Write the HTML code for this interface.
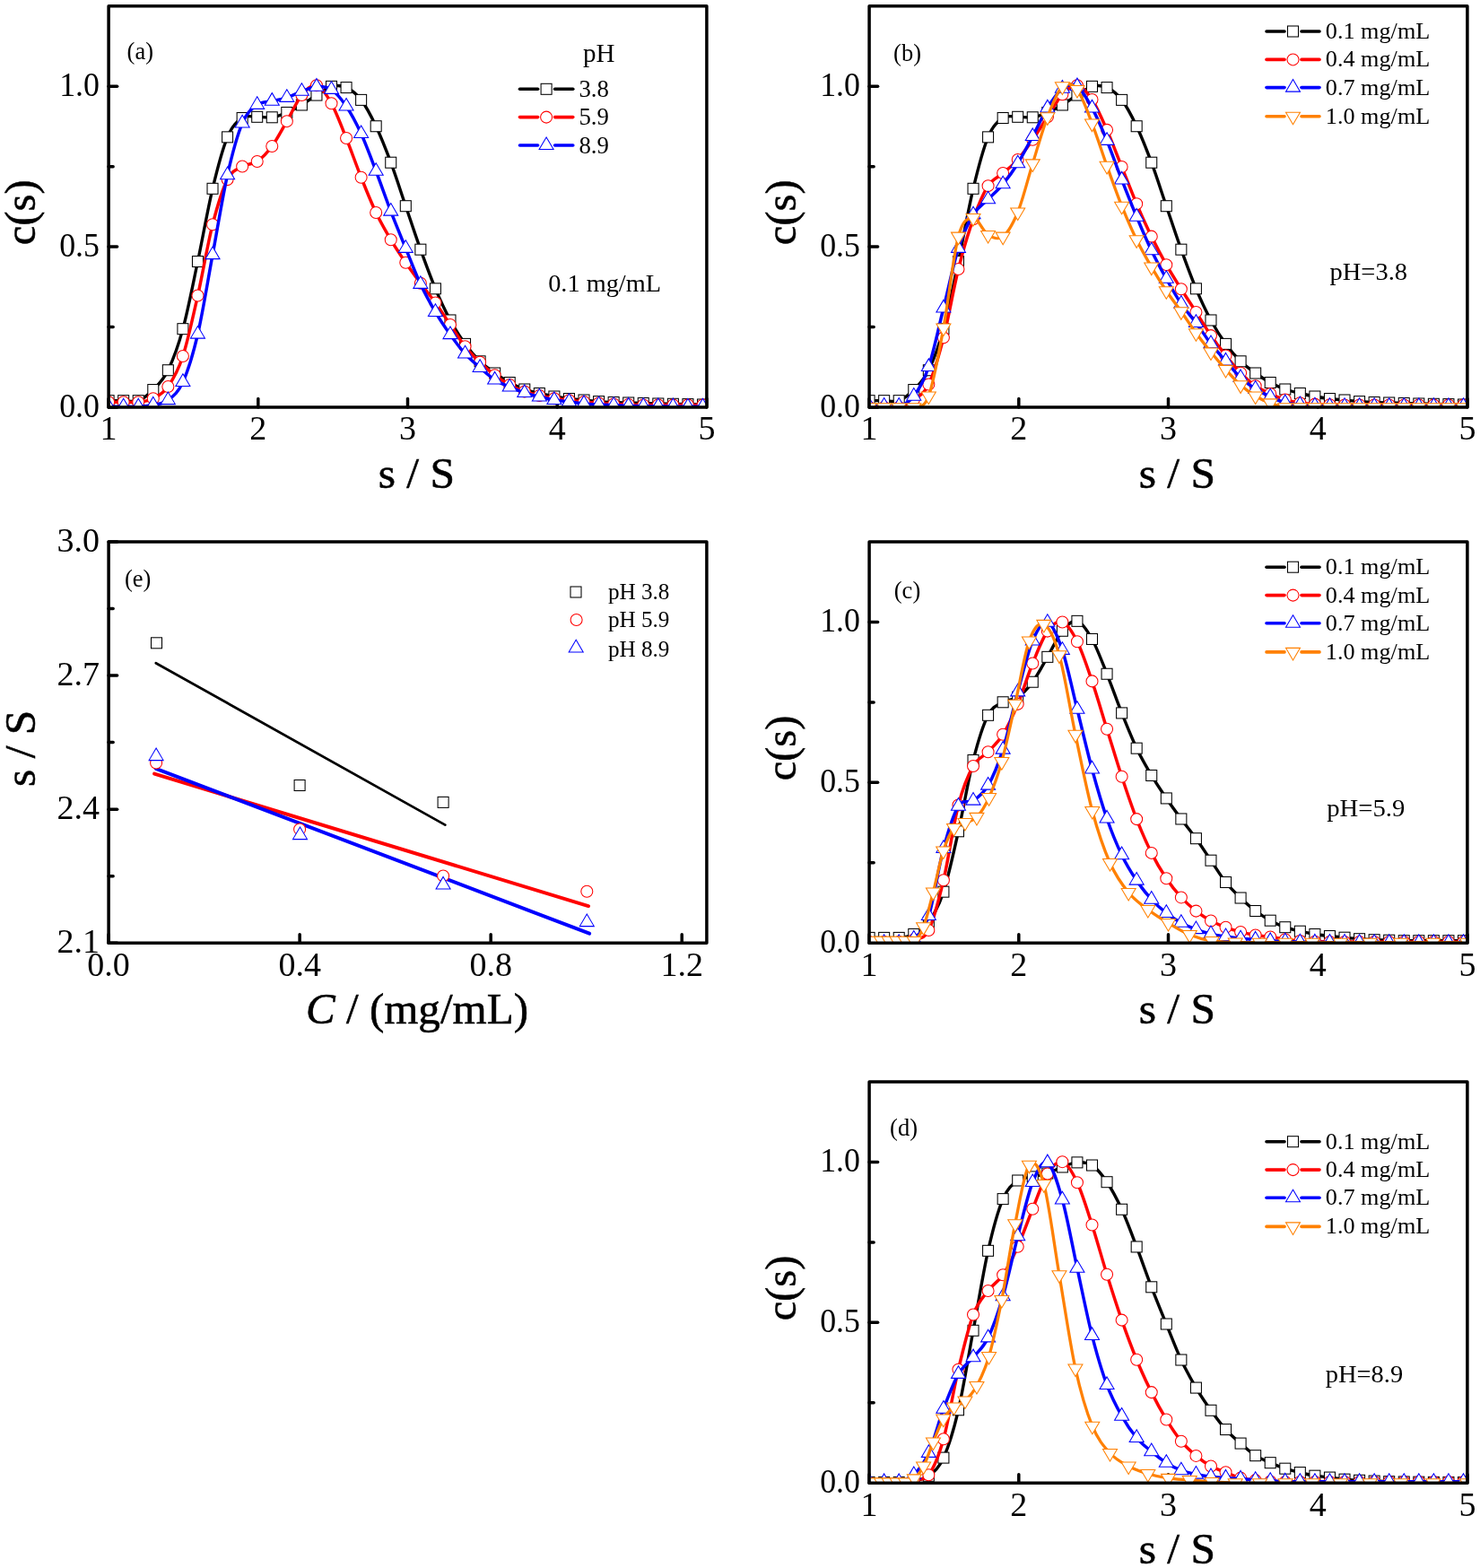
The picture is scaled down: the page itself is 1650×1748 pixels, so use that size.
<!DOCTYPE html>
<html><head><meta charset="utf-8"><title>c(s) distributions</title>
<style>html,body{margin:0;padding:0;background:#fff;}svg{display:block;}.ttl{stroke:#000;stroke-width:0.55px;}</style>
</head><body>
<svg width="1650" height="1748" viewBox="0 0 1650 1748" font-family="'Liberation Serif','Times New Roman',serif">
<rect width="1650" height="1748" fill="#fff"/>
<clipPath id="clipa"><rect x="121.1" y="6.8" width="666.8" height="447.2"/></clipPath>
<line x1="121.1" y1="454" x2="130.6" y2="454" stroke="#000" stroke-width="3.5" stroke-linecap="round"/>
<line x1="121.1" y1="275.12" x2="130.6" y2="275.12" stroke="#000" stroke-width="3.5" stroke-linecap="round"/>
<line x1="121.1" y1="96.24" x2="130.6" y2="96.24" stroke="#000" stroke-width="3.5" stroke-linecap="round"/>
<line x1="121.1" y1="364.56" x2="126.1" y2="364.56" stroke="#000" stroke-width="3.5" stroke-linecap="round"/>
<line x1="121.1" y1="185.68" x2="126.1" y2="185.68" stroke="#000" stroke-width="3.5" stroke-linecap="round"/>
<line x1="121.1" y1="454" x2="121.1" y2="444.5" stroke="#000" stroke-width="3.5" stroke-linecap="round"/>
<line x1="287.8" y1="454" x2="287.8" y2="444.5" stroke="#000" stroke-width="3.5" stroke-linecap="round"/>
<line x1="454.5" y1="454" x2="454.5" y2="444.5" stroke="#000" stroke-width="3.5" stroke-linecap="round"/>
<line x1="621.2" y1="454" x2="621.2" y2="444.5" stroke="#000" stroke-width="3.5" stroke-linecap="round"/>
<line x1="787.9" y1="454" x2="787.9" y2="444.5" stroke="#000" stroke-width="3.5" stroke-linecap="round"/>
<g clip-path="url(#clipa)">
<path d="M121.1,446.67C123.86,446.67 132.14,446.67 137.66,446.67C143.18,446.67 148.7,448.69 154.22,446.67C159.74,444.65 165.26,440.2 170.78,434.55C176.3,428.89 181.82,424.04 187.34,412.73C192.86,401.41 198.38,386.87 203.9,366.67C209.42,346.46 214.94,317.58 220.46,291.52C225.98,265.45 231.5,233.41 237.02,210.3C242.54,187.19 248.06,165.98 253.58,152.85C259.1,139.72 264.62,135.27 270.14,131.52C275.66,127.76 281.18,130.42 286.7,130.3C292.22,130.18 297.74,131.6 303.26,130.79C308.78,129.98 314.3,127.76 319.82,125.45C325.34,123.15 330.86,120.2 336.38,116.97C341.9,113.74 347.42,109.49 352.94,106.06C358.46,102.63 363.98,97.78 369.5,96.36C375.02,94.95 380.54,95.07 386.06,97.58C391.58,100.08 397.1,104.2 402.62,111.39C408.14,118.59 413.66,129.09 419.18,140.73C424.7,152.36 430.22,166.38 435.74,181.21C441.26,196.04 446.78,213.54 452.3,229.7C457.82,245.86 463.34,262.83 468.86,278.18C474.38,293.54 479.9,308.69 485.42,321.82C490.94,334.95 496.46,346.71 501.98,356.97C507.5,367.23 513.02,375.76 518.54,383.4C524.06,391.04 529.58,397.37 535.1,402.8C540.62,408.23 546.14,412.05 551.66,416C557.18,419.95 562.7,423.5 568.22,426.5C573.74,429.5 579.26,432 584.78,434C590.3,436 595.82,437.17 601.34,438.5C606.86,439.83 612.38,441 617.9,442C623.42,443 628.94,443.83 634.46,444.5C639.98,445.17 645.5,445.48 651.02,446C656.54,446.52 662.06,447.18 667.58,447.6C673.1,448.02 678.62,448.27 684.14,448.5C689.66,448.73 695.18,448.83 700.7,449C706.22,449.17 711.74,449.33 717.26,449.5C722.78,449.67 728.3,449.87 733.82,450C739.34,450.13 744.86,450.2 750.38,450.3C755.9,450.4 761.42,450.48 766.94,450.6C772.46,450.72 780.74,450.93 783.5,451" fill="none" stroke="#000000" stroke-width="3.4" stroke-linejoin="round" stroke-linecap="round"/>
<rect x="115.1" y="440.67" width="12" height="12" fill="#fff" stroke="#000000" stroke-width="1.05"/>
<rect x="131.66" y="440.67" width="12" height="12" fill="#fff" stroke="#000000" stroke-width="1.05"/>
<rect x="148.22" y="440.67" width="12" height="12" fill="#fff" stroke="#000000" stroke-width="1.05"/>
<rect x="164.78" y="428.55" width="12" height="12" fill="#fff" stroke="#000000" stroke-width="1.05"/>
<rect x="181.34" y="406.73" width="12" height="12" fill="#fff" stroke="#000000" stroke-width="1.05"/>
<rect x="197.9" y="360.67" width="12" height="12" fill="#fff" stroke="#000000" stroke-width="1.05"/>
<rect x="214.46" y="285.52" width="12" height="12" fill="#fff" stroke="#000000" stroke-width="1.05"/>
<rect x="231.02" y="204.3" width="12" height="12" fill="#fff" stroke="#000000" stroke-width="1.05"/>
<rect x="247.58" y="146.85" width="12" height="12" fill="#fff" stroke="#000000" stroke-width="1.05"/>
<rect x="264.14" y="125.52" width="12" height="12" fill="#fff" stroke="#000000" stroke-width="1.05"/>
<rect x="280.7" y="124.3" width="12" height="12" fill="#fff" stroke="#000000" stroke-width="1.05"/>
<rect x="297.26" y="124.79" width="12" height="12" fill="#fff" stroke="#000000" stroke-width="1.05"/>
<rect x="313.82" y="119.45" width="12" height="12" fill="#fff" stroke="#000000" stroke-width="1.05"/>
<rect x="330.38" y="110.97" width="12" height="12" fill="#fff" stroke="#000000" stroke-width="1.05"/>
<rect x="346.94" y="100.06" width="12" height="12" fill="#fff" stroke="#000000" stroke-width="1.05"/>
<rect x="363.5" y="90.36" width="12" height="12" fill="#fff" stroke="#000000" stroke-width="1.05"/>
<rect x="380.06" y="91.58" width="12" height="12" fill="#fff" stroke="#000000" stroke-width="1.05"/>
<rect x="396.62" y="105.39" width="12" height="12" fill="#fff" stroke="#000000" stroke-width="1.05"/>
<rect x="413.18" y="134.73" width="12" height="12" fill="#fff" stroke="#000000" stroke-width="1.05"/>
<rect x="429.74" y="175.21" width="12" height="12" fill="#fff" stroke="#000000" stroke-width="1.05"/>
<rect x="446.3" y="223.7" width="12" height="12" fill="#fff" stroke="#000000" stroke-width="1.05"/>
<rect x="462.86" y="272.18" width="12" height="12" fill="#fff" stroke="#000000" stroke-width="1.05"/>
<rect x="479.42" y="315.82" width="12" height="12" fill="#fff" stroke="#000000" stroke-width="1.05"/>
<rect x="495.98" y="350.97" width="12" height="12" fill="#fff" stroke="#000000" stroke-width="1.05"/>
<rect x="512.54" y="377.4" width="12" height="12" fill="#fff" stroke="#000000" stroke-width="1.05"/>
<rect x="529.1" y="396.8" width="12" height="12" fill="#fff" stroke="#000000" stroke-width="1.05"/>
<rect x="545.66" y="410" width="12" height="12" fill="#fff" stroke="#000000" stroke-width="1.05"/>
<rect x="562.22" y="420.5" width="12" height="12" fill="#fff" stroke="#000000" stroke-width="1.05"/>
<rect x="578.78" y="428" width="12" height="12" fill="#fff" stroke="#000000" stroke-width="1.05"/>
<rect x="595.34" y="432.5" width="12" height="12" fill="#fff" stroke="#000000" stroke-width="1.05"/>
<rect x="611.9" y="436" width="12" height="12" fill="#fff" stroke="#000000" stroke-width="1.05"/>
<rect x="628.46" y="438.5" width="12" height="12" fill="#fff" stroke="#000000" stroke-width="1.05"/>
<rect x="645.02" y="440" width="12" height="12" fill="#fff" stroke="#000000" stroke-width="1.05"/>
<rect x="661.58" y="441.6" width="12" height="12" fill="#fff" stroke="#000000" stroke-width="1.05"/>
<rect x="678.14" y="442.5" width="12" height="12" fill="#fff" stroke="#000000" stroke-width="1.05"/>
<rect x="694.7" y="443" width="12" height="12" fill="#fff" stroke="#000000" stroke-width="1.05"/>
<rect x="711.26" y="443.5" width="12" height="12" fill="#fff" stroke="#000000" stroke-width="1.05"/>
<rect x="727.82" y="444" width="12" height="12" fill="#fff" stroke="#000000" stroke-width="1.05"/>
<rect x="744.38" y="444.3" width="12" height="12" fill="#fff" stroke="#000000" stroke-width="1.05"/>
<rect x="760.94" y="444.6" width="12" height="12" fill="#fff" stroke="#000000" stroke-width="1.05"/>
<rect x="777.5" y="445" width="12" height="12" fill="#fff" stroke="#000000" stroke-width="1.05"/>
<path d="M121.1,448.2C123.86,448.2 132.14,448.2 137.66,448.2C143.18,448.2 148.7,448.86 154.22,448.2C159.74,447.54 165.26,447.12 170.78,444.24C176.3,441.36 181.82,438.79 187.34,430.91C192.86,423.03 198.38,413.86 203.9,396.97C209.42,380.08 214.94,354.02 220.46,329.58C225.98,305.13 231.5,271.88 237.02,250.3C242.54,228.73 248.06,210.91 253.58,200.12C259.1,189.33 264.62,188.93 270.14,185.58C275.66,182.22 281.18,183.76 286.7,180C292.22,176.24 297.74,170.51 303.26,163.03C308.78,155.56 314.3,144.65 319.82,135.15C325.34,125.66 330.86,112.73 336.38,106.06C341.9,99.39 347.42,93.62 352.94,95.15C358.46,96.69 363.98,105.45 369.5,115.27C375.02,125.09 380.54,140.32 386.06,154.06C391.58,167.8 397.1,183.88 402.62,197.7C408.14,211.52 413.66,225.37 419.18,236.97C424.7,248.57 430.22,257.98 435.74,267.27C441.26,276.57 446.78,284.65 452.3,292.73C457.82,300.81 463.34,308.3 468.86,315.76C474.38,323.22 479.9,329.79 485.42,337.5C490.94,345.21 496.46,353.87 501.98,362C507.5,370.13 513.02,379.33 518.54,386.3C524.06,393.27 529.58,398.47 535.1,403.8C540.62,409.13 546.14,414.1 551.66,418.3C557.18,422.5 562.7,425.97 568.22,429C573.74,432.03 579.26,434.5 584.78,436.5C590.3,438.5 595.82,439.7 601.34,441C606.86,442.3 612.38,443.42 617.9,444.3C623.42,445.18 628.94,445.68 634.46,446.3C639.98,446.92 645.5,447.47 651.02,448C656.54,448.53 662.06,449.08 667.58,449.5C673.1,449.92 678.62,450.25 684.14,450.5C689.66,450.75 695.18,450.83 700.7,451C706.22,451.17 711.74,451.42 717.26,451.5C722.78,451.58 728.3,451.5 733.82,451.5C739.34,451.5 744.86,451.5 750.38,451.5C755.9,451.5 761.42,451.5 766.94,451.5C772.46,451.5 780.74,451.5 783.5,451.5" fill="none" stroke="#ff0000" stroke-width="3.5" stroke-linejoin="round" stroke-linecap="round"/>
<circle cx="121.1" cy="448.2" r="6.5" fill="#fff" stroke="#ff0000" stroke-width="1.05"/>
<circle cx="137.66" cy="448.2" r="6.5" fill="#fff" stroke="#ff0000" stroke-width="1.05"/>
<circle cx="154.22" cy="448.2" r="6.5" fill="#fff" stroke="#ff0000" stroke-width="1.05"/>
<circle cx="170.78" cy="444.24" r="6.5" fill="#fff" stroke="#ff0000" stroke-width="1.05"/>
<circle cx="187.34" cy="430.91" r="6.5" fill="#fff" stroke="#ff0000" stroke-width="1.05"/>
<circle cx="203.9" cy="396.97" r="6.5" fill="#fff" stroke="#ff0000" stroke-width="1.05"/>
<circle cx="220.46" cy="329.58" r="6.5" fill="#fff" stroke="#ff0000" stroke-width="1.05"/>
<circle cx="237.02" cy="250.3" r="6.5" fill="#fff" stroke="#ff0000" stroke-width="1.05"/>
<circle cx="253.58" cy="200.12" r="6.5" fill="#fff" stroke="#ff0000" stroke-width="1.05"/>
<circle cx="270.14" cy="185.58" r="6.5" fill="#fff" stroke="#ff0000" stroke-width="1.05"/>
<circle cx="286.7" cy="180" r="6.5" fill="#fff" stroke="#ff0000" stroke-width="1.05"/>
<circle cx="303.26" cy="163.03" r="6.5" fill="#fff" stroke="#ff0000" stroke-width="1.05"/>
<circle cx="319.82" cy="135.15" r="6.5" fill="#fff" stroke="#ff0000" stroke-width="1.05"/>
<circle cx="336.38" cy="106.06" r="6.5" fill="#fff" stroke="#ff0000" stroke-width="1.05"/>
<circle cx="352.94" cy="95.15" r="6.5" fill="#fff" stroke="#ff0000" stroke-width="1.05"/>
<circle cx="369.5" cy="115.27" r="6.5" fill="#fff" stroke="#ff0000" stroke-width="1.05"/>
<circle cx="386.06" cy="154.06" r="6.5" fill="#fff" stroke="#ff0000" stroke-width="1.05"/>
<circle cx="402.62" cy="197.7" r="6.5" fill="#fff" stroke="#ff0000" stroke-width="1.05"/>
<circle cx="419.18" cy="236.97" r="6.5" fill="#fff" stroke="#ff0000" stroke-width="1.05"/>
<circle cx="435.74" cy="267.27" r="6.5" fill="#fff" stroke="#ff0000" stroke-width="1.05"/>
<circle cx="452.3" cy="292.73" r="6.5" fill="#fff" stroke="#ff0000" stroke-width="1.05"/>
<circle cx="468.86" cy="315.76" r="6.5" fill="#fff" stroke="#ff0000" stroke-width="1.05"/>
<circle cx="485.42" cy="337.5" r="6.5" fill="#fff" stroke="#ff0000" stroke-width="1.05"/>
<circle cx="501.98" cy="362" r="6.5" fill="#fff" stroke="#ff0000" stroke-width="1.05"/>
<circle cx="518.54" cy="386.3" r="6.5" fill="#fff" stroke="#ff0000" stroke-width="1.05"/>
<circle cx="535.1" cy="403.8" r="6.5" fill="#fff" stroke="#ff0000" stroke-width="1.05"/>
<circle cx="551.66" cy="418.3" r="6.5" fill="#fff" stroke="#ff0000" stroke-width="1.05"/>
<circle cx="568.22" cy="429" r="6.5" fill="#fff" stroke="#ff0000" stroke-width="1.05"/>
<circle cx="584.78" cy="436.5" r="6.5" fill="#fff" stroke="#ff0000" stroke-width="1.05"/>
<circle cx="601.34" cy="441" r="6.5" fill="#fff" stroke="#ff0000" stroke-width="1.05"/>
<circle cx="617.9" cy="444.3" r="6.5" fill="#fff" stroke="#ff0000" stroke-width="1.05"/>
<circle cx="634.46" cy="446.3" r="6.5" fill="#fff" stroke="#ff0000" stroke-width="1.05"/>
<circle cx="651.02" cy="448" r="6.5" fill="#fff" stroke="#ff0000" stroke-width="1.05"/>
<circle cx="667.58" cy="449.5" r="6.5" fill="#fff" stroke="#ff0000" stroke-width="1.05"/>
<circle cx="684.14" cy="450.5" r="6.5" fill="#fff" stroke="#ff0000" stroke-width="1.05"/>
<circle cx="700.7" cy="451" r="6.5" fill="#fff" stroke="#ff0000" stroke-width="1.05"/>
<circle cx="717.26" cy="451.5" r="6.5" fill="#fff" stroke="#ff0000" stroke-width="1.05"/>
<circle cx="733.82" cy="451.5" r="6.5" fill="#fff" stroke="#ff0000" stroke-width="1.05"/>
<circle cx="750.38" cy="451.5" r="6.5" fill="#fff" stroke="#ff0000" stroke-width="1.05"/>
<circle cx="766.94" cy="451.5" r="6.5" fill="#fff" stroke="#ff0000" stroke-width="1.05"/>
<circle cx="783.5" cy="451.5" r="6.5" fill="#fff" stroke="#ff0000" stroke-width="1.05"/>
<path d="M121.1,453.27C123.86,453.27 132.14,453.27 137.66,453.27C143.18,453.27 148.7,453.57 154.22,453.27C159.74,452.97 165.26,452.67 170.78,451.47C176.3,450.27 181.82,450.33 187.34,446.07C192.86,441.81 198.38,438.15 203.9,425.9C209.42,413.65 214.94,396.21 220.46,372.57C225.98,348.93 231.5,313.66 237.02,284.08C242.54,254.51 248.06,219.56 253.58,195.12C259.1,170.67 264.62,150.47 270.14,137.42C275.66,124.37 281.18,120.93 286.7,116.81C292.22,112.69 297.74,114.02 303.26,112.69C308.78,111.36 314.3,110.63 319.82,108.81C325.34,106.99 330.86,103.8 336.38,101.78C341.9,99.76 347.42,97.01 352.94,96.69C358.46,96.37 363.98,96.21 369.5,99.84C375.02,103.48 380.54,110.31 386.06,118.51C391.58,126.71 397.1,137.01 402.62,149.05C408.14,161.09 413.66,176.33 419.18,190.75C424.7,205.18 430.22,221.26 435.74,235.6C441.26,249.94 446.78,263.28 452.3,276.81C457.82,290.35 463.34,304.97 468.86,316.81C474.38,328.65 479.9,338.49 485.42,347.87C490.94,357.24 496.46,365.32 501.98,373.07C507.5,380.82 513.02,388.23 518.54,394.37C524.06,400.5 529.58,405.02 535.1,409.87C540.62,414.72 546.14,419.87 551.66,423.47C557.18,427.07 562.7,429.05 568.22,431.47C573.74,433.88 579.26,436.15 584.78,437.97C590.3,439.78 595.82,441.03 601.34,442.37C606.86,443.7 612.38,445.05 617.9,445.97C623.42,446.88 628.94,447.2 634.46,447.87C639.98,448.53 645.5,449.43 651.02,449.97C656.54,450.5 662.06,450.75 667.58,451.07C673.1,451.38 678.62,451.63 684.14,451.87C689.66,452.1 695.18,452.32 700.7,452.47C706.22,452.62 711.74,452.68 717.26,452.77C722.78,452.85 728.3,452.9 733.82,452.97C739.34,453.03 744.86,453.12 750.38,453.17C755.9,453.22 761.42,453.25 766.94,453.27C772.46,453.28 780.74,453.27 783.5,453.27" fill="none" stroke="#0000ff" stroke-width="3.5" stroke-linejoin="round" stroke-linecap="round"/>
<path d="M121.1,444.2L129.1,457.8L113.1,457.8Z" fill="#fff" stroke="#0000ff" stroke-width="1.05"/>
<path d="M137.66,444.2L145.66,457.8L129.66,457.8Z" fill="#fff" stroke="#0000ff" stroke-width="1.05"/>
<path d="M154.22,444.2L162.22,457.8L146.22,457.8Z" fill="#fff" stroke="#0000ff" stroke-width="1.05"/>
<path d="M170.78,442.4L178.78,456L162.78,456Z" fill="#fff" stroke="#0000ff" stroke-width="1.05"/>
<path d="M187.34,437L195.34,450.6L179.34,450.6Z" fill="#fff" stroke="#0000ff" stroke-width="1.05"/>
<path d="M203.9,416.84L211.9,430.44L195.9,430.44Z" fill="#fff" stroke="#0000ff" stroke-width="1.05"/>
<path d="M220.46,363.5L228.46,377.1L212.46,377.1Z" fill="#fff" stroke="#0000ff" stroke-width="1.05"/>
<path d="M237.02,275.02L245.02,288.62L229.02,288.62Z" fill="#fff" stroke="#0000ff" stroke-width="1.05"/>
<path d="M253.58,186.05L261.58,199.65L245.58,199.65Z" fill="#fff" stroke="#0000ff" stroke-width="1.05"/>
<path d="M270.14,128.35L278.14,141.95L262.14,141.95Z" fill="#fff" stroke="#0000ff" stroke-width="1.05"/>
<path d="M286.7,107.75L294.7,121.35L278.7,121.35Z" fill="#fff" stroke="#0000ff" stroke-width="1.05"/>
<path d="M303.26,103.62L311.26,117.22L295.26,117.22Z" fill="#fff" stroke="#0000ff" stroke-width="1.05"/>
<path d="M319.82,99.75L327.82,113.35L311.82,113.35Z" fill="#fff" stroke="#0000ff" stroke-width="1.05"/>
<path d="M336.38,92.72L344.38,106.32L328.38,106.32Z" fill="#fff" stroke="#0000ff" stroke-width="1.05"/>
<path d="M352.94,87.62L360.94,101.22L344.94,101.22Z" fill="#fff" stroke="#0000ff" stroke-width="1.05"/>
<path d="M369.5,90.78L377.5,104.38L361.5,104.38Z" fill="#fff" stroke="#0000ff" stroke-width="1.05"/>
<path d="M386.06,109.44L394.06,123.04L378.06,123.04Z" fill="#fff" stroke="#0000ff" stroke-width="1.05"/>
<path d="M402.62,139.99L410.62,153.59L394.62,153.59Z" fill="#fff" stroke="#0000ff" stroke-width="1.05"/>
<path d="M419.18,181.68L427.18,195.28L411.18,195.28Z" fill="#fff" stroke="#0000ff" stroke-width="1.05"/>
<path d="M435.74,226.53L443.74,240.13L427.74,240.13Z" fill="#fff" stroke="#0000ff" stroke-width="1.05"/>
<path d="M452.3,267.75L460.3,281.35L444.3,281.35Z" fill="#fff" stroke="#0000ff" stroke-width="1.05"/>
<path d="M468.86,307.75L476.86,321.35L460.86,321.35Z" fill="#fff" stroke="#0000ff" stroke-width="1.05"/>
<path d="M485.42,338.8L493.42,352.4L477.42,352.4Z" fill="#fff" stroke="#0000ff" stroke-width="1.05"/>
<path d="M501.98,364L509.98,377.6L493.98,377.6Z" fill="#fff" stroke="#0000ff" stroke-width="1.05"/>
<path d="M518.54,385.3L526.54,398.9L510.54,398.9Z" fill="#fff" stroke="#0000ff" stroke-width="1.05"/>
<path d="M535.1,400.8L543.1,414.4L527.1,414.4Z" fill="#fff" stroke="#0000ff" stroke-width="1.05"/>
<path d="M551.66,414.4L559.66,428L543.66,428Z" fill="#fff" stroke="#0000ff" stroke-width="1.05"/>
<path d="M568.22,422.4L576.22,436L560.22,436Z" fill="#fff" stroke="#0000ff" stroke-width="1.05"/>
<path d="M584.78,428.9L592.78,442.5L576.78,442.5Z" fill="#fff" stroke="#0000ff" stroke-width="1.05"/>
<path d="M601.34,433.3L609.34,446.9L593.34,446.9Z" fill="#fff" stroke="#0000ff" stroke-width="1.05"/>
<path d="M617.9,436.9L625.9,450.5L609.9,450.5Z" fill="#fff" stroke="#0000ff" stroke-width="1.05"/>
<path d="M634.46,438.8L642.46,452.4L626.46,452.4Z" fill="#fff" stroke="#0000ff" stroke-width="1.05"/>
<path d="M651.02,440.9L659.02,454.5L643.02,454.5Z" fill="#fff" stroke="#0000ff" stroke-width="1.05"/>
<path d="M667.58,442L675.58,455.6L659.58,455.6Z" fill="#fff" stroke="#0000ff" stroke-width="1.05"/>
<path d="M684.14,442.8L692.14,456.4L676.14,456.4Z" fill="#fff" stroke="#0000ff" stroke-width="1.05"/>
<path d="M700.7,443.4L708.7,457L692.7,457Z" fill="#fff" stroke="#0000ff" stroke-width="1.05"/>
<path d="M717.26,443.7L725.26,457.3L709.26,457.3Z" fill="#fff" stroke="#0000ff" stroke-width="1.05"/>
<path d="M733.82,443.9L741.82,457.5L725.82,457.5Z" fill="#fff" stroke="#0000ff" stroke-width="1.05"/>
<path d="M750.38,444.1L758.38,457.7L742.38,457.7Z" fill="#fff" stroke="#0000ff" stroke-width="1.05"/>
<path d="M766.94,444.2L774.94,457.8L758.94,457.8Z" fill="#fff" stroke="#0000ff" stroke-width="1.05"/>
<path d="M783.5,444.2L791.5,457.8L775.5,457.8Z" fill="#fff" stroke="#0000ff" stroke-width="1.05"/>
</g>
<rect x="121.1" y="6.8" width="666.8" height="447.2" fill="none" stroke="#000" stroke-width="3.5" stroke-linejoin="round"/>
<text x="111" y="464.65" font-size="38" text-anchor="end" textLength="44.8" lengthAdjust="spacingAndGlyphs">0.0</text>
<text x="111" y="285.77" font-size="38" text-anchor="end" textLength="44.8" lengthAdjust="spacingAndGlyphs">0.5</text>
<text x="111" y="106.89" font-size="38" text-anchor="end" textLength="44.8" lengthAdjust="spacingAndGlyphs">1.0</text>
<text x="121.1" y="490.3" font-size="38" text-anchor="middle">1</text>
<text x="287.8" y="490.3" font-size="38" text-anchor="middle">2</text>
<text x="454.5" y="490.3" font-size="38" text-anchor="middle">3</text>
<text x="621.2" y="490.3" font-size="38" text-anchor="middle">4</text>
<text x="787.9" y="490.3" font-size="38" text-anchor="middle">5</text>
<text x="464.3" y="544" font-size="49.5" text-anchor="middle" class="ttl">s / S</text>
<text x="0" y="0" font-size="48.5" text-anchor="middle" class="ttl" transform="translate(39.1,236.8) rotate(-90)">c(s)</text>
<text x="141.6" y="66" font-size="26.5" text-anchor="start">(a)</text>
<clipPath id="clipb"><rect x="969.1" y="6.8" width="666.8" height="447.2"/></clipPath>
<line x1="969.1" y1="454" x2="978.6" y2="454" stroke="#000" stroke-width="3.5" stroke-linecap="round"/>
<line x1="969.1" y1="275.12" x2="978.6" y2="275.12" stroke="#000" stroke-width="3.5" stroke-linecap="round"/>
<line x1="969.1" y1="96.24" x2="978.6" y2="96.24" stroke="#000" stroke-width="3.5" stroke-linecap="round"/>
<line x1="969.1" y1="364.56" x2="974.1" y2="364.56" stroke="#000" stroke-width="3.5" stroke-linecap="round"/>
<line x1="969.1" y1="185.68" x2="974.1" y2="185.68" stroke="#000" stroke-width="3.5" stroke-linecap="round"/>
<line x1="969.1" y1="454" x2="969.1" y2="444.5" stroke="#000" stroke-width="3.5" stroke-linecap="round"/>
<line x1="1135.8" y1="454" x2="1135.8" y2="444.5" stroke="#000" stroke-width="3.5" stroke-linecap="round"/>
<line x1="1302.5" y1="454" x2="1302.5" y2="444.5" stroke="#000" stroke-width="3.5" stroke-linecap="round"/>
<line x1="1469.2" y1="454" x2="1469.2" y2="444.5" stroke="#000" stroke-width="3.5" stroke-linecap="round"/>
<line x1="1635.9" y1="454" x2="1635.9" y2="444.5" stroke="#000" stroke-width="3.5" stroke-linecap="round"/>
<g clip-path="url(#clipb)">
<path d="M969.1,446.67C971.86,446.67 980.14,446.67 985.66,446.67C991.18,446.67 996.7,448.69 1002.22,446.67C1007.74,444.65 1013.26,440.2 1018.78,434.55C1024.3,428.89 1029.82,424.04 1035.34,412.73C1040.86,401.41 1046.38,386.87 1051.9,366.67C1057.42,346.46 1062.94,317.58 1068.46,291.52C1073.98,265.45 1079.5,233.41 1085.02,210.3C1090.54,187.19 1096.06,165.98 1101.58,152.85C1107.1,139.72 1112.62,135.27 1118.14,131.52C1123.66,127.76 1129.18,130.42 1134.7,130.3C1140.22,130.18 1145.74,131.6 1151.26,130.79C1156.78,129.98 1162.3,127.76 1167.82,125.45C1173.34,123.15 1178.86,120.2 1184.38,116.97C1189.9,113.74 1195.42,109.49 1200.94,106.06C1206.46,102.63 1211.98,97.78 1217.5,96.36C1223.02,94.95 1228.54,95.07 1234.06,97.58C1239.58,100.08 1245.1,104.2 1250.62,111.39C1256.14,118.59 1261.66,129.09 1267.18,140.73C1272.7,152.36 1278.22,166.38 1283.74,181.21C1289.26,196.04 1294.78,213.54 1300.3,229.7C1305.82,245.86 1311.34,262.83 1316.86,278.18C1322.38,293.54 1327.9,308.69 1333.42,321.82C1338.94,334.95 1344.46,346.71 1349.98,356.97C1355.5,367.23 1361.02,375.76 1366.54,383.4C1372.06,391.04 1377.58,397.37 1383.1,402.8C1388.62,408.23 1394.14,412.05 1399.66,416C1405.18,419.95 1410.7,423.5 1416.22,426.5C1421.74,429.5 1427.26,432 1432.78,434C1438.3,436 1443.82,437.17 1449.34,438.5C1454.86,439.83 1460.38,441 1465.9,442C1471.42,443 1476.94,443.83 1482.46,444.5C1487.98,445.17 1493.5,445.48 1499.02,446C1504.54,446.52 1510.06,447.18 1515.58,447.6C1521.1,448.02 1526.62,448.27 1532.14,448.5C1537.66,448.73 1543.18,448.83 1548.7,449C1554.22,449.17 1559.74,449.33 1565.26,449.5C1570.78,449.67 1576.3,449.87 1581.82,450C1587.34,450.13 1592.86,450.2 1598.38,450.3C1603.9,450.4 1609.42,450.48 1614.94,450.6C1620.46,450.72 1628.74,450.93 1631.5,451" fill="none" stroke="#000000" stroke-width="3.4" stroke-linejoin="round" stroke-linecap="round"/>
<rect x="963.1" y="440.67" width="12" height="12" fill="#fff" stroke="#000000" stroke-width="1.05"/>
<rect x="979.66" y="440.67" width="12" height="12" fill="#fff" stroke="#000000" stroke-width="1.05"/>
<rect x="996.22" y="440.67" width="12" height="12" fill="#fff" stroke="#000000" stroke-width="1.05"/>
<rect x="1012.78" y="428.55" width="12" height="12" fill="#fff" stroke="#000000" stroke-width="1.05"/>
<rect x="1029.34" y="406.73" width="12" height="12" fill="#fff" stroke="#000000" stroke-width="1.05"/>
<rect x="1045.9" y="360.67" width="12" height="12" fill="#fff" stroke="#000000" stroke-width="1.05"/>
<rect x="1062.46" y="285.52" width="12" height="12" fill="#fff" stroke="#000000" stroke-width="1.05"/>
<rect x="1079.02" y="204.3" width="12" height="12" fill="#fff" stroke="#000000" stroke-width="1.05"/>
<rect x="1095.58" y="146.85" width="12" height="12" fill="#fff" stroke="#000000" stroke-width="1.05"/>
<rect x="1112.14" y="125.52" width="12" height="12" fill="#fff" stroke="#000000" stroke-width="1.05"/>
<rect x="1128.7" y="124.3" width="12" height="12" fill="#fff" stroke="#000000" stroke-width="1.05"/>
<rect x="1145.26" y="124.79" width="12" height="12" fill="#fff" stroke="#000000" stroke-width="1.05"/>
<rect x="1161.82" y="119.45" width="12" height="12" fill="#fff" stroke="#000000" stroke-width="1.05"/>
<rect x="1178.38" y="110.97" width="12" height="12" fill="#fff" stroke="#000000" stroke-width="1.05"/>
<rect x="1194.94" y="100.06" width="12" height="12" fill="#fff" stroke="#000000" stroke-width="1.05"/>
<rect x="1211.5" y="90.36" width="12" height="12" fill="#fff" stroke="#000000" stroke-width="1.05"/>
<rect x="1228.06" y="91.58" width="12" height="12" fill="#fff" stroke="#000000" stroke-width="1.05"/>
<rect x="1244.62" y="105.39" width="12" height="12" fill="#fff" stroke="#000000" stroke-width="1.05"/>
<rect x="1261.18" y="134.73" width="12" height="12" fill="#fff" stroke="#000000" stroke-width="1.05"/>
<rect x="1277.74" y="175.21" width="12" height="12" fill="#fff" stroke="#000000" stroke-width="1.05"/>
<rect x="1294.3" y="223.7" width="12" height="12" fill="#fff" stroke="#000000" stroke-width="1.05"/>
<rect x="1310.86" y="272.18" width="12" height="12" fill="#fff" stroke="#000000" stroke-width="1.05"/>
<rect x="1327.42" y="315.82" width="12" height="12" fill="#fff" stroke="#000000" stroke-width="1.05"/>
<rect x="1343.98" y="350.97" width="12" height="12" fill="#fff" stroke="#000000" stroke-width="1.05"/>
<rect x="1360.54" y="377.4" width="12" height="12" fill="#fff" stroke="#000000" stroke-width="1.05"/>
<rect x="1377.1" y="396.8" width="12" height="12" fill="#fff" stroke="#000000" stroke-width="1.05"/>
<rect x="1393.66" y="410" width="12" height="12" fill="#fff" stroke="#000000" stroke-width="1.05"/>
<rect x="1410.22" y="420.5" width="12" height="12" fill="#fff" stroke="#000000" stroke-width="1.05"/>
<rect x="1426.78" y="428" width="12" height="12" fill="#fff" stroke="#000000" stroke-width="1.05"/>
<rect x="1443.34" y="432.5" width="12" height="12" fill="#fff" stroke="#000000" stroke-width="1.05"/>
<rect x="1459.9" y="436" width="12" height="12" fill="#fff" stroke="#000000" stroke-width="1.05"/>
<rect x="1476.46" y="438.5" width="12" height="12" fill="#fff" stroke="#000000" stroke-width="1.05"/>
<rect x="1493.02" y="440" width="12" height="12" fill="#fff" stroke="#000000" stroke-width="1.05"/>
<rect x="1509.58" y="441.6" width="12" height="12" fill="#fff" stroke="#000000" stroke-width="1.05"/>
<rect x="1526.14" y="442.5" width="12" height="12" fill="#fff" stroke="#000000" stroke-width="1.05"/>
<rect x="1542.7" y="443" width="12" height="12" fill="#fff" stroke="#000000" stroke-width="1.05"/>
<rect x="1559.26" y="443.5" width="12" height="12" fill="#fff" stroke="#000000" stroke-width="1.05"/>
<rect x="1575.82" y="444" width="12" height="12" fill="#fff" stroke="#000000" stroke-width="1.05"/>
<rect x="1592.38" y="444.3" width="12" height="12" fill="#fff" stroke="#000000" stroke-width="1.05"/>
<rect x="1608.94" y="444.6" width="12" height="12" fill="#fff" stroke="#000000" stroke-width="1.05"/>
<rect x="1625.5" y="445" width="12" height="12" fill="#fff" stroke="#000000" stroke-width="1.05"/>
<path d="M969.1,454C971.86,454 980.14,454 985.66,454C991.18,454 996.7,455.42 1002.22,454C1007.74,452.58 1013.26,449.71 1018.78,445.45C1024.3,441.2 1029.82,440 1035.34,428.48C1040.86,416.97 1046.38,397.78 1051.9,376.36C1057.42,354.95 1062.94,322.02 1068.46,300C1073.98,277.98 1079.5,259.72 1085.02,244.24C1090.54,228.77 1096.06,215.68 1101.58,207.15C1107.1,198.63 1112.62,197.94 1118.14,193.09C1123.66,188.24 1129.18,184.28 1134.7,178.06C1140.22,171.84 1145.74,163.72 1151.26,155.76C1156.78,147.8 1162.3,138.71 1167.82,130.3C1173.34,121.9 1178.86,111.19 1184.38,105.33C1189.9,99.47 1195.42,94.22 1200.94,95.15C1206.46,96.08 1211.98,102.63 1217.5,110.91C1223.02,119.19 1228.54,132.32 1234.06,144.85C1239.58,157.37 1245.1,172.32 1250.62,186.06C1256.14,199.8 1261.66,214.34 1267.18,227.27C1272.7,240.2 1278.22,252.32 1283.74,263.64C1289.26,274.95 1294.78,285.37 1300.3,295.15C1305.82,304.93 1311.34,313.51 1316.86,322.3C1322.38,331.09 1327.9,339.27 1333.42,347.9C1338.94,356.53 1344.46,366.02 1349.98,374.1C1355.5,382.18 1361.02,389.45 1366.54,396.4C1372.06,403.35 1377.58,410.15 1383.1,415.8C1388.62,421.45 1394.14,426.43 1399.66,430.3C1405.18,434.17 1410.7,436.47 1416.22,439C1421.74,441.53 1427.26,443.78 1432.78,445.5C1438.3,447.22 1443.82,448.45 1449.34,449.3C1454.86,450.15 1460.38,450.28 1465.9,450.6C1471.42,450.92 1476.94,451.07 1482.46,451.2C1487.98,451.33 1493.5,451.35 1499.02,451.4C1504.54,451.45 1510.06,451.48 1515.58,451.5C1521.1,451.52 1526.62,451.5 1532.14,451.5C1537.66,451.5 1543.18,451.5 1548.7,451.5C1554.22,451.5 1559.74,451.5 1565.26,451.5C1570.78,451.5 1576.3,451.5 1581.82,451.5C1587.34,451.5 1592.86,451.5 1598.38,451.5C1603.9,451.5 1609.42,451.5 1614.94,451.5C1620.46,451.5 1628.74,451.5 1631.5,451.5" fill="none" stroke="#ff0000" stroke-width="3.5" stroke-linejoin="round" stroke-linecap="round"/>
<circle cx="969.1" cy="454" r="6.5" fill="#fff" stroke="#ff0000" stroke-width="1.05"/>
<circle cx="985.66" cy="454" r="6.5" fill="#fff" stroke="#ff0000" stroke-width="1.05"/>
<circle cx="1002.22" cy="454" r="6.5" fill="#fff" stroke="#ff0000" stroke-width="1.05"/>
<circle cx="1018.78" cy="445.45" r="6.5" fill="#fff" stroke="#ff0000" stroke-width="1.05"/>
<circle cx="1035.34" cy="428.48" r="6.5" fill="#fff" stroke="#ff0000" stroke-width="1.05"/>
<circle cx="1051.9" cy="376.36" r="6.5" fill="#fff" stroke="#ff0000" stroke-width="1.05"/>
<circle cx="1068.46" cy="300" r="6.5" fill="#fff" stroke="#ff0000" stroke-width="1.05"/>
<circle cx="1085.02" cy="244.24" r="6.5" fill="#fff" stroke="#ff0000" stroke-width="1.05"/>
<circle cx="1101.58" cy="207.15" r="6.5" fill="#fff" stroke="#ff0000" stroke-width="1.05"/>
<circle cx="1118.14" cy="193.09" r="6.5" fill="#fff" stroke="#ff0000" stroke-width="1.05"/>
<circle cx="1134.7" cy="178.06" r="6.5" fill="#fff" stroke="#ff0000" stroke-width="1.05"/>
<circle cx="1151.26" cy="155.76" r="6.5" fill="#fff" stroke="#ff0000" stroke-width="1.05"/>
<circle cx="1167.82" cy="130.3" r="6.5" fill="#fff" stroke="#ff0000" stroke-width="1.05"/>
<circle cx="1184.38" cy="105.33" r="6.5" fill="#fff" stroke="#ff0000" stroke-width="1.05"/>
<circle cx="1200.94" cy="95.15" r="6.5" fill="#fff" stroke="#ff0000" stroke-width="1.05"/>
<circle cx="1217.5" cy="110.91" r="6.5" fill="#fff" stroke="#ff0000" stroke-width="1.05"/>
<circle cx="1234.06" cy="144.85" r="6.5" fill="#fff" stroke="#ff0000" stroke-width="1.05"/>
<circle cx="1250.62" cy="186.06" r="6.5" fill="#fff" stroke="#ff0000" stroke-width="1.05"/>
<circle cx="1267.18" cy="227.27" r="6.5" fill="#fff" stroke="#ff0000" stroke-width="1.05"/>
<circle cx="1283.74" cy="263.64" r="6.5" fill="#fff" stroke="#ff0000" stroke-width="1.05"/>
<circle cx="1300.3" cy="295.15" r="6.5" fill="#fff" stroke="#ff0000" stroke-width="1.05"/>
<circle cx="1316.86" cy="322.3" r="6.5" fill="#fff" stroke="#ff0000" stroke-width="1.05"/>
<circle cx="1333.42" cy="347.9" r="6.5" fill="#fff" stroke="#ff0000" stroke-width="1.05"/>
<circle cx="1349.98" cy="374.1" r="6.5" fill="#fff" stroke="#ff0000" stroke-width="1.05"/>
<circle cx="1366.54" cy="396.4" r="6.5" fill="#fff" stroke="#ff0000" stroke-width="1.05"/>
<circle cx="1383.1" cy="415.8" r="6.5" fill="#fff" stroke="#ff0000" stroke-width="1.05"/>
<circle cx="1399.66" cy="430.3" r="6.5" fill="#fff" stroke="#ff0000" stroke-width="1.05"/>
<circle cx="1416.22" cy="439" r="6.5" fill="#fff" stroke="#ff0000" stroke-width="1.05"/>
<circle cx="1432.78" cy="445.5" r="6.5" fill="#fff" stroke="#ff0000" stroke-width="1.05"/>
<circle cx="1449.34" cy="449.3" r="6.5" fill="#fff" stroke="#ff0000" stroke-width="1.05"/>
<circle cx="1465.9" cy="450.6" r="6.5" fill="#fff" stroke="#ff0000" stroke-width="1.05"/>
<circle cx="1482.46" cy="451.2" r="6.5" fill="#fff" stroke="#ff0000" stroke-width="1.05"/>
<circle cx="1499.02" cy="451.4" r="6.5" fill="#fff" stroke="#ff0000" stroke-width="1.05"/>
<circle cx="1515.58" cy="451.5" r="6.5" fill="#fff" stroke="#ff0000" stroke-width="1.05"/>
<circle cx="1532.14" cy="451.5" r="6.5" fill="#fff" stroke="#ff0000" stroke-width="1.05"/>
<circle cx="1548.7" cy="451.5" r="6.5" fill="#fff" stroke="#ff0000" stroke-width="1.05"/>
<circle cx="1565.26" cy="451.5" r="6.5" fill="#fff" stroke="#ff0000" stroke-width="1.05"/>
<circle cx="1581.82" cy="451.5" r="6.5" fill="#fff" stroke="#ff0000" stroke-width="1.05"/>
<circle cx="1598.38" cy="451.5" r="6.5" fill="#fff" stroke="#ff0000" stroke-width="1.05"/>
<circle cx="1614.94" cy="451.5" r="6.5" fill="#fff" stroke="#ff0000" stroke-width="1.05"/>
<circle cx="1631.5" cy="451.5" r="6.5" fill="#fff" stroke="#ff0000" stroke-width="1.05"/>
<path d="M969.1,452.57C971.86,452.57 980.14,452.57 985.66,452.57C991.18,452.57 996.7,454.39 1002.22,452.57C1007.74,450.75 1013.26,448.93 1018.78,441.66C1024.3,434.39 1029.82,425.3 1035.34,408.93C1040.86,392.57 1046.38,365.5 1051.9,343.48C1057.42,321.46 1062.94,294.19 1068.46,276.81C1073.98,259.44 1079.5,248.33 1085.02,239.24C1090.54,230.15 1096.06,227.92 1101.58,222.27C1107.1,216.61 1112.62,211.96 1118.14,205.3C1123.66,198.63 1129.18,191.16 1134.7,182.27C1140.22,173.38 1145.74,162.27 1151.26,151.96C1156.78,141.66 1162.3,129.34 1167.82,120.45C1173.34,111.56 1178.86,102.67 1184.38,98.63C1189.9,94.59 1195.42,92.57 1200.94,96.21C1206.46,99.84 1211.98,110.35 1217.5,120.45C1223.02,130.55 1228.54,143.48 1234.06,156.81C1239.58,170.15 1245.1,186.31 1250.62,200.45C1256.14,214.59 1261.66,228.53 1267.18,241.66C1272.7,254.79 1278.22,267.72 1283.74,279.24C1289.26,290.75 1294.78,300.85 1300.3,310.75C1305.82,320.65 1311.34,330.44 1316.86,338.63C1322.38,346.82 1327.9,352.44 1333.42,359.87C1338.94,367.29 1344.46,376.07 1349.98,383.17C1355.5,390.27 1361.02,396.17 1366.54,402.47C1372.06,408.77 1377.58,415.78 1383.1,420.97C1388.62,426.15 1394.14,430.02 1399.66,433.57C1405.18,437.12 1410.7,439.7 1416.22,442.27C1421.74,444.83 1427.26,447.5 1432.78,448.97C1438.3,450.43 1443.82,450.5 1449.34,451.07C1454.86,451.63 1460.38,452.08 1465.9,452.37C1471.42,452.65 1476.94,452.7 1482.46,452.77C1487.98,452.83 1493.5,452.77 1499.02,452.77C1504.54,452.77 1510.06,452.77 1515.58,452.77C1521.1,452.77 1526.62,452.77 1532.14,452.77C1537.66,452.77 1543.18,452.77 1548.7,452.77C1554.22,452.77 1559.74,452.77 1565.26,452.77C1570.78,452.77 1576.3,452.77 1581.82,452.77C1587.34,452.77 1592.86,452.77 1598.38,452.77C1603.9,452.77 1609.42,452.77 1614.94,452.77C1620.46,452.77 1628.74,452.77 1631.5,452.77" fill="none" stroke="#0000ff" stroke-width="3.5" stroke-linejoin="round" stroke-linecap="round"/>
<path d="M969.1,443.5L977.1,457.1L961.1,457.1Z" fill="#fff" stroke="#0000ff" stroke-width="1.05"/>
<path d="M985.66,443.5L993.66,457.1L977.66,457.1Z" fill="#fff" stroke="#0000ff" stroke-width="1.05"/>
<path d="M1002.22,443.5L1010.22,457.1L994.22,457.1Z" fill="#fff" stroke="#0000ff" stroke-width="1.05"/>
<path d="M1018.78,432.59L1026.78,446.19L1010.78,446.19Z" fill="#fff" stroke="#0000ff" stroke-width="1.05"/>
<path d="M1035.34,399.87L1043.34,413.47L1027.34,413.47Z" fill="#fff" stroke="#0000ff" stroke-width="1.05"/>
<path d="M1051.9,334.41L1059.9,348.01L1043.9,348.01Z" fill="#fff" stroke="#0000ff" stroke-width="1.05"/>
<path d="M1068.46,267.75L1076.46,281.35L1060.46,281.35Z" fill="#fff" stroke="#0000ff" stroke-width="1.05"/>
<path d="M1085.02,230.17L1093.02,243.77L1077.02,243.77Z" fill="#fff" stroke="#0000ff" stroke-width="1.05"/>
<path d="M1101.58,213.2L1109.58,226.8L1093.58,226.8Z" fill="#fff" stroke="#0000ff" stroke-width="1.05"/>
<path d="M1118.14,196.23L1126.14,209.83L1110.14,209.83Z" fill="#fff" stroke="#0000ff" stroke-width="1.05"/>
<path d="M1134.7,173.2L1142.7,186.8L1126.7,186.8Z" fill="#fff" stroke="#0000ff" stroke-width="1.05"/>
<path d="M1151.26,142.9L1159.26,156.5L1143.26,156.5Z" fill="#fff" stroke="#0000ff" stroke-width="1.05"/>
<path d="M1167.82,111.38L1175.82,124.98L1159.82,124.98Z" fill="#fff" stroke="#0000ff" stroke-width="1.05"/>
<path d="M1184.38,89.56L1192.38,103.16L1176.38,103.16Z" fill="#fff" stroke="#0000ff" stroke-width="1.05"/>
<path d="M1200.94,87.14L1208.94,100.74L1192.94,100.74Z" fill="#fff" stroke="#0000ff" stroke-width="1.05"/>
<path d="M1217.5,111.38L1225.5,124.98L1209.5,124.98Z" fill="#fff" stroke="#0000ff" stroke-width="1.05"/>
<path d="M1234.06,147.75L1242.06,161.35L1226.06,161.35Z" fill="#fff" stroke="#0000ff" stroke-width="1.05"/>
<path d="M1250.62,191.38L1258.62,204.98L1242.62,204.98Z" fill="#fff" stroke="#0000ff" stroke-width="1.05"/>
<path d="M1267.18,232.59L1275.18,246.19L1259.18,246.19Z" fill="#fff" stroke="#0000ff" stroke-width="1.05"/>
<path d="M1283.74,270.17L1291.74,283.77L1275.74,283.77Z" fill="#fff" stroke="#0000ff" stroke-width="1.05"/>
<path d="M1300.3,301.68L1308.3,315.28L1292.3,315.28Z" fill="#fff" stroke="#0000ff" stroke-width="1.05"/>
<path d="M1316.86,329.56L1324.86,343.16L1308.86,343.16Z" fill="#fff" stroke="#0000ff" stroke-width="1.05"/>
<path d="M1333.42,350.8L1341.42,364.4L1325.42,364.4Z" fill="#fff" stroke="#0000ff" stroke-width="1.05"/>
<path d="M1349.98,374.1L1357.98,387.7L1341.98,387.7Z" fill="#fff" stroke="#0000ff" stroke-width="1.05"/>
<path d="M1366.54,393.4L1374.54,407L1358.54,407Z" fill="#fff" stroke="#0000ff" stroke-width="1.05"/>
<path d="M1383.1,411.9L1391.1,425.5L1375.1,425.5Z" fill="#fff" stroke="#0000ff" stroke-width="1.05"/>
<path d="M1399.66,424.5L1407.66,438.1L1391.66,438.1Z" fill="#fff" stroke="#0000ff" stroke-width="1.05"/>
<path d="M1416.22,433.2L1424.22,446.8L1408.22,446.8Z" fill="#fff" stroke="#0000ff" stroke-width="1.05"/>
<path d="M1432.78,439.9L1440.78,453.5L1424.78,453.5Z" fill="#fff" stroke="#0000ff" stroke-width="1.05"/>
<path d="M1449.34,442L1457.34,455.6L1441.34,455.6Z" fill="#fff" stroke="#0000ff" stroke-width="1.05"/>
<path d="M1465.9,443.3L1473.9,456.9L1457.9,456.9Z" fill="#fff" stroke="#0000ff" stroke-width="1.05"/>
<path d="M1482.46,443.7L1490.46,457.3L1474.46,457.3Z" fill="#fff" stroke="#0000ff" stroke-width="1.05"/>
<path d="M1499.02,443.7L1507.02,457.3L1491.02,457.3Z" fill="#fff" stroke="#0000ff" stroke-width="1.05"/>
<path d="M1515.58,443.7L1523.58,457.3L1507.58,457.3Z" fill="#fff" stroke="#0000ff" stroke-width="1.05"/>
<path d="M1532.14,443.7L1540.14,457.3L1524.14,457.3Z" fill="#fff" stroke="#0000ff" stroke-width="1.05"/>
<path d="M1548.7,443.7L1556.7,457.3L1540.7,457.3Z" fill="#fff" stroke="#0000ff" stroke-width="1.05"/>
<path d="M1565.26,443.7L1573.26,457.3L1557.26,457.3Z" fill="#fff" stroke="#0000ff" stroke-width="1.05"/>
<path d="M1581.82,443.7L1589.82,457.3L1573.82,457.3Z" fill="#fff" stroke="#0000ff" stroke-width="1.05"/>
<path d="M1598.38,443.7L1606.38,457.3L1590.38,457.3Z" fill="#fff" stroke="#0000ff" stroke-width="1.05"/>
<path d="M1614.94,443.7L1622.94,457.3L1606.94,457.3Z" fill="#fff" stroke="#0000ff" stroke-width="1.05"/>
<path d="M1631.5,443.7L1639.5,457.3L1623.5,457.3Z" fill="#fff" stroke="#0000ff" stroke-width="1.05"/>
<path d="M969.1,454.2C971.86,454.2 980.14,454.2 985.66,454.2C991.18,454.2 996.7,454.2 1002.22,454.2C1007.74,454.2 1013.26,456.32 1018.78,454.2C1024.3,452.08 1029.82,456.29 1035.34,441.5C1040.86,426.71 1046.38,395.1 1051.9,365.45C1057.42,335.81 1062.94,284.04 1068.46,263.64C1073.98,243.23 1079.5,243.31 1085.02,243.03C1090.54,242.75 1096.06,258.51 1101.58,261.94C1107.1,265.37 1112.62,267.88 1118.14,263.64C1123.66,259.39 1129.18,250.02 1134.7,236.48C1140.22,222.95 1145.74,200.12 1151.26,182.42C1156.78,164.73 1162.3,144.65 1167.82,130.3C1173.34,115.96 1178.86,101.41 1184.38,96.36C1189.9,91.31 1195.42,93.13 1200.94,100C1206.46,106.87 1211.98,123.43 1217.5,137.58C1223.02,151.72 1228.54,169.49 1234.06,184.85C1239.58,200.2 1245.1,215.96 1250.62,229.7C1256.14,243.43 1261.66,255.96 1267.18,267.27C1272.7,278.59 1278.22,288.08 1283.74,297.58C1289.26,307.07 1294.78,315.96 1300.3,324.24C1305.82,332.53 1311.34,339.45 1316.86,347.27C1322.38,355.1 1327.9,363.66 1333.42,371.2C1338.94,378.74 1344.46,385.72 1349.98,392.5C1355.5,399.28 1361.02,405.77 1366.54,411.9C1372.06,418.03 1377.58,424.37 1383.1,429.3C1388.62,434.23 1394.14,438.15 1399.66,441.5C1405.18,444.85 1410.7,447.28 1416.22,449.4C1421.74,451.52 1427.26,453.4 1432.78,454.2C1438.3,455 1443.82,454.2 1449.34,454.2C1454.86,454.2 1460.38,454.2 1465.9,454.2C1471.42,454.2 1476.94,454.2 1482.46,454.2C1487.98,454.2 1493.5,454.2 1499.02,454.2C1504.54,454.2 1510.06,454.2 1515.58,454.2C1521.1,454.2 1526.62,454.2 1532.14,454.2C1537.66,454.2 1543.18,454.2 1548.7,454.2C1554.22,454.2 1559.74,454.2 1565.26,454.2C1570.78,454.2 1576.3,454.2 1581.82,454.2C1587.34,454.2 1592.86,454.2 1598.38,454.2C1603.9,454.2 1609.42,454.2 1614.94,454.2C1620.46,454.2 1628.74,454.2 1631.5,454.2" fill="none" stroke="#ff8000" stroke-width="3.3" stroke-linejoin="round" stroke-linecap="round"/>
<path d="M969.1,463.27L977.1,449.67L961.1,449.67Z" fill="#fff" stroke="#ff8000" stroke-width="1.05"/>
<path d="M985.66,463.27L993.66,449.67L977.66,449.67Z" fill="#fff" stroke="#ff8000" stroke-width="1.05"/>
<path d="M1002.22,463.27L1010.22,449.67L994.22,449.67Z" fill="#fff" stroke="#ff8000" stroke-width="1.05"/>
<path d="M1018.78,463.27L1026.78,449.67L1010.78,449.67Z" fill="#fff" stroke="#ff8000" stroke-width="1.05"/>
<path d="M1035.34,450.57L1043.34,436.97L1027.34,436.97Z" fill="#fff" stroke="#ff8000" stroke-width="1.05"/>
<path d="M1051.9,374.52L1059.9,360.92L1043.9,360.92Z" fill="#fff" stroke="#ff8000" stroke-width="1.05"/>
<path d="M1068.46,272.7L1076.46,259.1L1060.46,259.1Z" fill="#fff" stroke="#ff8000" stroke-width="1.05"/>
<path d="M1085.02,252.1L1093.02,238.5L1077.02,238.5Z" fill="#fff" stroke="#ff8000" stroke-width="1.05"/>
<path d="M1101.58,271.01L1109.58,257.41L1093.58,257.41Z" fill="#fff" stroke="#ff8000" stroke-width="1.05"/>
<path d="M1118.14,272.7L1126.14,259.1L1110.14,259.1Z" fill="#fff" stroke="#ff8000" stroke-width="1.05"/>
<path d="M1134.7,245.55L1142.7,231.95L1126.7,231.95Z" fill="#fff" stroke="#ff8000" stroke-width="1.05"/>
<path d="M1151.26,191.49L1159.26,177.89L1143.26,177.89Z" fill="#fff" stroke="#ff8000" stroke-width="1.05"/>
<path d="M1167.82,139.37L1175.82,125.77L1159.82,125.77Z" fill="#fff" stroke="#ff8000" stroke-width="1.05"/>
<path d="M1184.38,105.43L1192.38,91.83L1176.38,91.83Z" fill="#fff" stroke="#ff8000" stroke-width="1.05"/>
<path d="M1200.94,109.07L1208.94,95.47L1192.94,95.47Z" fill="#fff" stroke="#ff8000" stroke-width="1.05"/>
<path d="M1217.5,146.64L1225.5,133.04L1209.5,133.04Z" fill="#fff" stroke="#ff8000" stroke-width="1.05"/>
<path d="M1234.06,193.92L1242.06,180.32L1226.06,180.32Z" fill="#fff" stroke="#ff8000" stroke-width="1.05"/>
<path d="M1250.62,238.76L1258.62,225.16L1242.62,225.16Z" fill="#fff" stroke="#ff8000" stroke-width="1.05"/>
<path d="M1267.18,276.34L1275.18,262.74L1259.18,262.74Z" fill="#fff" stroke="#ff8000" stroke-width="1.05"/>
<path d="M1283.74,306.64L1291.74,293.04L1275.74,293.04Z" fill="#fff" stroke="#ff8000" stroke-width="1.05"/>
<path d="M1300.3,333.31L1308.3,319.71L1292.3,319.71Z" fill="#fff" stroke="#ff8000" stroke-width="1.05"/>
<path d="M1316.86,356.34L1324.86,342.74L1308.86,342.74Z" fill="#fff" stroke="#ff8000" stroke-width="1.05"/>
<path d="M1333.42,380.27L1341.42,366.67L1325.42,366.67Z" fill="#fff" stroke="#ff8000" stroke-width="1.05"/>
<path d="M1349.98,401.57L1357.98,387.97L1341.98,387.97Z" fill="#fff" stroke="#ff8000" stroke-width="1.05"/>
<path d="M1366.54,420.97L1374.54,407.37L1358.54,407.37Z" fill="#fff" stroke="#ff8000" stroke-width="1.05"/>
<path d="M1383.1,438.37L1391.1,424.77L1375.1,424.77Z" fill="#fff" stroke="#ff8000" stroke-width="1.05"/>
<path d="M1399.66,450.57L1407.66,436.97L1391.66,436.97Z" fill="#fff" stroke="#ff8000" stroke-width="1.05"/>
<path d="M1416.22,458.47L1424.22,444.87L1408.22,444.87Z" fill="#fff" stroke="#ff8000" stroke-width="1.05"/>
<path d="M1432.78,463.27L1440.78,449.67L1424.78,449.67Z" fill="#fff" stroke="#ff8000" stroke-width="1.05"/>
<path d="M1449.34,463.27L1457.34,449.67L1441.34,449.67Z" fill="#fff" stroke="#ff8000" stroke-width="1.05"/>
<path d="M1465.9,463.27L1473.9,449.67L1457.9,449.67Z" fill="#fff" stroke="#ff8000" stroke-width="1.05"/>
<path d="M1482.46,463.27L1490.46,449.67L1474.46,449.67Z" fill="#fff" stroke="#ff8000" stroke-width="1.05"/>
<path d="M1499.02,463.27L1507.02,449.67L1491.02,449.67Z" fill="#fff" stroke="#ff8000" stroke-width="1.05"/>
<path d="M1515.58,463.27L1523.58,449.67L1507.58,449.67Z" fill="#fff" stroke="#ff8000" stroke-width="1.05"/>
<path d="M1532.14,463.27L1540.14,449.67L1524.14,449.67Z" fill="#fff" stroke="#ff8000" stroke-width="1.05"/>
<path d="M1548.7,463.27L1556.7,449.67L1540.7,449.67Z" fill="#fff" stroke="#ff8000" stroke-width="1.05"/>
<path d="M1565.26,463.27L1573.26,449.67L1557.26,449.67Z" fill="#fff" stroke="#ff8000" stroke-width="1.05"/>
<path d="M1581.82,463.27L1589.82,449.67L1573.82,449.67Z" fill="#fff" stroke="#ff8000" stroke-width="1.05"/>
<path d="M1598.38,463.27L1606.38,449.67L1590.38,449.67Z" fill="#fff" stroke="#ff8000" stroke-width="1.05"/>
<path d="M1614.94,463.27L1622.94,449.67L1606.94,449.67Z" fill="#fff" stroke="#ff8000" stroke-width="1.05"/>
<path d="M1631.5,463.27L1639.5,449.67L1623.5,449.67Z" fill="#fff" stroke="#ff8000" stroke-width="1.05"/>
</g>
<rect x="969.1" y="6.8" width="666.8" height="447.2" fill="none" stroke="#000" stroke-width="3.5" stroke-linejoin="round"/>
<text x="959" y="464.65" font-size="38" text-anchor="end" textLength="44.8" lengthAdjust="spacingAndGlyphs">0.0</text>
<text x="959" y="285.77" font-size="38" text-anchor="end" textLength="44.8" lengthAdjust="spacingAndGlyphs">0.5</text>
<text x="959" y="106.89" font-size="38" text-anchor="end" textLength="44.8" lengthAdjust="spacingAndGlyphs">1.0</text>
<text x="969.1" y="490.3" font-size="38" text-anchor="middle">1</text>
<text x="1135.8" y="490.3" font-size="38" text-anchor="middle">2</text>
<text x="1302.5" y="490.3" font-size="38" text-anchor="middle">3</text>
<text x="1469.2" y="490.3" font-size="38" text-anchor="middle">4</text>
<text x="1635.9" y="490.3" font-size="38" text-anchor="middle">5</text>
<text x="1312.3" y="544" font-size="49.5" text-anchor="middle" class="ttl">s / S</text>
<text x="0" y="0" font-size="48.5" text-anchor="middle" class="ttl" transform="translate(887.1,236.8) rotate(-90)">c(s)</text>
<text x="996.1" y="67.6" font-size="26.5" text-anchor="start">(b)</text>
<clipPath id="clipc"><rect x="969.1" y="604" width="666.8" height="447.2"/></clipPath>
<line x1="969.1" y1="1051.2" x2="978.6" y2="1051.2" stroke="#000" stroke-width="3.5" stroke-linecap="round"/>
<line x1="969.1" y1="872.32" x2="978.6" y2="872.32" stroke="#000" stroke-width="3.5" stroke-linecap="round"/>
<line x1="969.1" y1="693.44" x2="978.6" y2="693.44" stroke="#000" stroke-width="3.5" stroke-linecap="round"/>
<line x1="969.1" y1="961.76" x2="974.1" y2="961.76" stroke="#000" stroke-width="3.5" stroke-linecap="round"/>
<line x1="969.1" y1="782.88" x2="974.1" y2="782.88" stroke="#000" stroke-width="3.5" stroke-linecap="round"/>
<line x1="969.1" y1="1051.2" x2="969.1" y2="1041.7" stroke="#000" stroke-width="3.5" stroke-linecap="round"/>
<line x1="1135.8" y1="1051.2" x2="1135.8" y2="1041.7" stroke="#000" stroke-width="3.5" stroke-linecap="round"/>
<line x1="1302.5" y1="1051.2" x2="1302.5" y2="1041.7" stroke="#000" stroke-width="3.5" stroke-linecap="round"/>
<line x1="1469.2" y1="1051.2" x2="1469.2" y2="1041.7" stroke="#000" stroke-width="3.5" stroke-linecap="round"/>
<line x1="1635.9" y1="1051.2" x2="1635.9" y2="1041.7" stroke="#000" stroke-width="3.5" stroke-linecap="round"/>
<g clip-path="url(#clipc)">
<path d="M969.1,1045.4C971.86,1045.4 980.14,1045.4 985.66,1045.4C991.18,1045.4 996.7,1046.06 1002.22,1045.4C1007.74,1044.74 1013.26,1044.32 1018.78,1041.44C1024.3,1038.56 1029.82,1035.99 1035.34,1028.11C1040.86,1020.23 1046.38,1011.06 1051.9,994.17C1057.42,977.28 1062.94,951.22 1068.46,926.78C1073.98,902.33 1079.5,869.08 1085.02,847.5C1090.54,825.93 1096.06,808.11 1101.58,797.32C1107.1,786.53 1112.62,786.13 1118.14,782.78C1123.66,779.42 1129.18,780.96 1134.7,777.2C1140.22,773.44 1145.74,767.71 1151.26,760.23C1156.78,752.76 1162.3,741.85 1167.82,732.35C1173.34,722.86 1178.86,709.93 1184.38,703.26C1189.9,696.59 1195.42,690.82 1200.94,692.35C1206.46,693.89 1211.98,702.65 1217.5,712.47C1223.02,722.29 1228.54,737.52 1234.06,751.26C1239.58,765 1245.1,781.08 1250.62,794.9C1256.14,808.72 1261.66,822.57 1267.18,834.17C1272.7,845.77 1278.22,855.18 1283.74,864.47C1289.26,873.77 1294.78,881.85 1300.3,889.93C1305.82,898.01 1311.34,905.5 1316.86,912.96C1322.38,920.42 1327.9,926.99 1333.42,934.7C1338.94,942.41 1344.46,951.07 1349.98,959.2C1355.5,967.33 1361.02,976.53 1366.54,983.5C1372.06,990.47 1377.58,995.67 1383.1,1001C1388.62,1006.33 1394.14,1011.3 1399.66,1015.5C1405.18,1019.7 1410.7,1023.17 1416.22,1026.2C1421.74,1029.23 1427.26,1031.7 1432.78,1033.7C1438.3,1035.7 1443.82,1036.9 1449.34,1038.2C1454.86,1039.5 1460.38,1040.62 1465.9,1041.5C1471.42,1042.38 1476.94,1042.88 1482.46,1043.5C1487.98,1044.12 1493.5,1044.67 1499.02,1045.2C1504.54,1045.73 1510.06,1046.28 1515.58,1046.7C1521.1,1047.12 1526.62,1047.45 1532.14,1047.7C1537.66,1047.95 1543.18,1048.03 1548.7,1048.2C1554.22,1048.37 1559.74,1048.62 1565.26,1048.7C1570.78,1048.78 1576.3,1048.7 1581.82,1048.7C1587.34,1048.7 1592.86,1048.7 1598.38,1048.7C1603.9,1048.7 1609.42,1048.7 1614.94,1048.7C1620.46,1048.7 1628.74,1048.7 1631.5,1048.7" fill="none" stroke="#000000" stroke-width="3.4" stroke-linejoin="round" stroke-linecap="round"/>
<rect x="963.1" y="1039.4" width="12" height="12" fill="#fff" stroke="#000000" stroke-width="1.05"/>
<rect x="979.66" y="1039.4" width="12" height="12" fill="#fff" stroke="#000000" stroke-width="1.05"/>
<rect x="996.22" y="1039.4" width="12" height="12" fill="#fff" stroke="#000000" stroke-width="1.05"/>
<rect x="1012.78" y="1035.44" width="12" height="12" fill="#fff" stroke="#000000" stroke-width="1.05"/>
<rect x="1029.34" y="1022.11" width="12" height="12" fill="#fff" stroke="#000000" stroke-width="1.05"/>
<rect x="1045.9" y="988.17" width="12" height="12" fill="#fff" stroke="#000000" stroke-width="1.05"/>
<rect x="1062.46" y="920.78" width="12" height="12" fill="#fff" stroke="#000000" stroke-width="1.05"/>
<rect x="1079.02" y="841.5" width="12" height="12" fill="#fff" stroke="#000000" stroke-width="1.05"/>
<rect x="1095.58" y="791.32" width="12" height="12" fill="#fff" stroke="#000000" stroke-width="1.05"/>
<rect x="1112.14" y="776.78" width="12" height="12" fill="#fff" stroke="#000000" stroke-width="1.05"/>
<rect x="1128.7" y="771.2" width="12" height="12" fill="#fff" stroke="#000000" stroke-width="1.05"/>
<rect x="1145.26" y="754.23" width="12" height="12" fill="#fff" stroke="#000000" stroke-width="1.05"/>
<rect x="1161.82" y="726.35" width="12" height="12" fill="#fff" stroke="#000000" stroke-width="1.05"/>
<rect x="1178.38" y="697.26" width="12" height="12" fill="#fff" stroke="#000000" stroke-width="1.05"/>
<rect x="1194.94" y="686.35" width="12" height="12" fill="#fff" stroke="#000000" stroke-width="1.05"/>
<rect x="1211.5" y="706.47" width="12" height="12" fill="#fff" stroke="#000000" stroke-width="1.05"/>
<rect x="1228.06" y="745.26" width="12" height="12" fill="#fff" stroke="#000000" stroke-width="1.05"/>
<rect x="1244.62" y="788.9" width="12" height="12" fill="#fff" stroke="#000000" stroke-width="1.05"/>
<rect x="1261.18" y="828.17" width="12" height="12" fill="#fff" stroke="#000000" stroke-width="1.05"/>
<rect x="1277.74" y="858.47" width="12" height="12" fill="#fff" stroke="#000000" stroke-width="1.05"/>
<rect x="1294.3" y="883.93" width="12" height="12" fill="#fff" stroke="#000000" stroke-width="1.05"/>
<rect x="1310.86" y="906.96" width="12" height="12" fill="#fff" stroke="#000000" stroke-width="1.05"/>
<rect x="1327.42" y="928.7" width="12" height="12" fill="#fff" stroke="#000000" stroke-width="1.05"/>
<rect x="1343.98" y="953.2" width="12" height="12" fill="#fff" stroke="#000000" stroke-width="1.05"/>
<rect x="1360.54" y="977.5" width="12" height="12" fill="#fff" stroke="#000000" stroke-width="1.05"/>
<rect x="1377.1" y="995" width="12" height="12" fill="#fff" stroke="#000000" stroke-width="1.05"/>
<rect x="1393.66" y="1009.5" width="12" height="12" fill="#fff" stroke="#000000" stroke-width="1.05"/>
<rect x="1410.22" y="1020.2" width="12" height="12" fill="#fff" stroke="#000000" stroke-width="1.05"/>
<rect x="1426.78" y="1027.7" width="12" height="12" fill="#fff" stroke="#000000" stroke-width="1.05"/>
<rect x="1443.34" y="1032.2" width="12" height="12" fill="#fff" stroke="#000000" stroke-width="1.05"/>
<rect x="1459.9" y="1035.5" width="12" height="12" fill="#fff" stroke="#000000" stroke-width="1.05"/>
<rect x="1476.46" y="1037.5" width="12" height="12" fill="#fff" stroke="#000000" stroke-width="1.05"/>
<rect x="1493.02" y="1039.2" width="12" height="12" fill="#fff" stroke="#000000" stroke-width="1.05"/>
<rect x="1509.58" y="1040.7" width="12" height="12" fill="#fff" stroke="#000000" stroke-width="1.05"/>
<rect x="1526.14" y="1041.7" width="12" height="12" fill="#fff" stroke="#000000" stroke-width="1.05"/>
<rect x="1542.7" y="1042.2" width="12" height="12" fill="#fff" stroke="#000000" stroke-width="1.05"/>
<rect x="1559.26" y="1042.7" width="12" height="12" fill="#fff" stroke="#000000" stroke-width="1.05"/>
<rect x="1575.82" y="1042.7" width="12" height="12" fill="#fff" stroke="#000000" stroke-width="1.05"/>
<rect x="1592.38" y="1042.7" width="12" height="12" fill="#fff" stroke="#000000" stroke-width="1.05"/>
<rect x="1608.94" y="1042.7" width="12" height="12" fill="#fff" stroke="#000000" stroke-width="1.05"/>
<rect x="1625.5" y="1042.7" width="12" height="12" fill="#fff" stroke="#000000" stroke-width="1.05"/>
<path d="M969.1,1050C971.86,1050 980.14,1050 985.66,1050C991.18,1050 996.7,1050.43 1002.22,1050C1007.74,1049.57 1013.26,1049.57 1018.78,1047.39C1024.3,1045.22 1029.82,1048 1035.34,1036.97C1040.86,1025.94 1046.38,1004.44 1051.9,981.21C1057.42,957.98 1062.94,918.79 1068.46,897.58C1073.98,876.36 1079.5,863.84 1085.02,853.94C1090.54,844.04 1096.06,844.04 1101.58,838.18C1107.1,832.32 1112.62,827.68 1118.14,818.79C1123.66,809.9 1129.18,798.06 1134.7,784.85C1140.22,771.64 1145.74,753.05 1151.26,739.52C1156.78,725.98 1162.3,711.31 1167.82,703.64C1173.34,695.96 1178.86,691.52 1184.38,693.45C1189.9,695.39 1195.42,704.28 1200.94,715.27C1206.46,726.26 1211.98,743.15 1217.5,759.39C1223.02,775.64 1228.54,794.99 1234.06,812.73C1239.58,830.46 1245.1,849.07 1250.62,865.8C1256.14,882.53 1261.66,898.92 1267.18,913.1C1272.7,927.28 1278.22,939.87 1283.74,950.9C1289.26,961.93 1294.78,971.05 1300.3,979.3C1305.82,987.55 1311.34,994.35 1316.86,1000.4C1322.38,1006.45 1327.9,1011.25 1333.42,1015.6C1338.94,1019.95 1344.46,1023.47 1349.98,1026.5C1355.5,1029.53 1361.02,1031.73 1366.54,1033.8C1372.06,1035.87 1377.58,1037.45 1383.1,1038.9C1388.62,1040.35 1394.14,1041.57 1399.66,1042.5C1405.18,1043.43 1410.7,1043.72 1416.22,1044.5C1421.74,1045.28 1427.26,1046.47 1432.78,1047.2C1438.3,1047.93 1443.82,1048.48 1449.34,1048.9C1454.86,1049.32 1460.38,1049.53 1465.9,1049.7C1471.42,1049.87 1476.94,1049.85 1482.46,1049.9C1487.98,1049.95 1493.5,1049.98 1499.02,1050C1504.54,1050.02 1510.06,1050 1515.58,1050C1521.1,1050 1526.62,1050 1532.14,1050C1537.66,1050 1543.18,1050 1548.7,1050C1554.22,1050 1559.74,1050 1565.26,1050C1570.78,1050 1576.3,1050 1581.82,1050C1587.34,1050 1592.86,1050 1598.38,1050C1603.9,1050 1609.42,1050 1614.94,1050C1620.46,1050 1628.74,1050 1631.5,1050" fill="none" stroke="#ff0000" stroke-width="3.5" stroke-linejoin="round" stroke-linecap="round"/>
<circle cx="969.1" cy="1050" r="6.5" fill="#fff" stroke="#ff0000" stroke-width="1.05"/>
<circle cx="985.66" cy="1050" r="6.5" fill="#fff" stroke="#ff0000" stroke-width="1.05"/>
<circle cx="1002.22" cy="1050" r="6.5" fill="#fff" stroke="#ff0000" stroke-width="1.05"/>
<circle cx="1018.78" cy="1047.39" r="6.5" fill="#fff" stroke="#ff0000" stroke-width="1.05"/>
<circle cx="1035.34" cy="1036.97" r="6.5" fill="#fff" stroke="#ff0000" stroke-width="1.05"/>
<circle cx="1051.9" cy="981.21" r="6.5" fill="#fff" stroke="#ff0000" stroke-width="1.05"/>
<circle cx="1068.46" cy="897.58" r="6.5" fill="#fff" stroke="#ff0000" stroke-width="1.05"/>
<circle cx="1085.02" cy="853.94" r="6.5" fill="#fff" stroke="#ff0000" stroke-width="1.05"/>
<circle cx="1101.58" cy="838.18" r="6.5" fill="#fff" stroke="#ff0000" stroke-width="1.05"/>
<circle cx="1118.14" cy="818.79" r="6.5" fill="#fff" stroke="#ff0000" stroke-width="1.05"/>
<circle cx="1134.7" cy="784.85" r="6.5" fill="#fff" stroke="#ff0000" stroke-width="1.05"/>
<circle cx="1151.26" cy="739.52" r="6.5" fill="#fff" stroke="#ff0000" stroke-width="1.05"/>
<circle cx="1167.82" cy="703.64" r="6.5" fill="#fff" stroke="#ff0000" stroke-width="1.05"/>
<circle cx="1184.38" cy="693.45" r="6.5" fill="#fff" stroke="#ff0000" stroke-width="1.05"/>
<circle cx="1200.94" cy="715.27" r="6.5" fill="#fff" stroke="#ff0000" stroke-width="1.05"/>
<circle cx="1217.5" cy="759.39" r="6.5" fill="#fff" stroke="#ff0000" stroke-width="1.05"/>
<circle cx="1234.06" cy="812.73" r="6.5" fill="#fff" stroke="#ff0000" stroke-width="1.05"/>
<circle cx="1250.62" cy="865.8" r="6.5" fill="#fff" stroke="#ff0000" stroke-width="1.05"/>
<circle cx="1267.18" cy="913.1" r="6.5" fill="#fff" stroke="#ff0000" stroke-width="1.05"/>
<circle cx="1283.74" cy="950.9" r="6.5" fill="#fff" stroke="#ff0000" stroke-width="1.05"/>
<circle cx="1300.3" cy="979.3" r="6.5" fill="#fff" stroke="#ff0000" stroke-width="1.05"/>
<circle cx="1316.86" cy="1000.4" r="6.5" fill="#fff" stroke="#ff0000" stroke-width="1.05"/>
<circle cx="1333.42" cy="1015.6" r="6.5" fill="#fff" stroke="#ff0000" stroke-width="1.05"/>
<circle cx="1349.98" cy="1026.5" r="6.5" fill="#fff" stroke="#ff0000" stroke-width="1.05"/>
<circle cx="1366.54" cy="1033.8" r="6.5" fill="#fff" stroke="#ff0000" stroke-width="1.05"/>
<circle cx="1383.1" cy="1038.9" r="6.5" fill="#fff" stroke="#ff0000" stroke-width="1.05"/>
<circle cx="1399.66" cy="1042.5" r="6.5" fill="#fff" stroke="#ff0000" stroke-width="1.05"/>
<circle cx="1416.22" cy="1044.5" r="6.5" fill="#fff" stroke="#ff0000" stroke-width="1.05"/>
<circle cx="1432.78" cy="1047.2" r="6.5" fill="#fff" stroke="#ff0000" stroke-width="1.05"/>
<circle cx="1449.34" cy="1048.9" r="6.5" fill="#fff" stroke="#ff0000" stroke-width="1.05"/>
<circle cx="1465.9" cy="1049.7" r="6.5" fill="#fff" stroke="#ff0000" stroke-width="1.05"/>
<circle cx="1482.46" cy="1049.9" r="6.5" fill="#fff" stroke="#ff0000" stroke-width="1.05"/>
<circle cx="1499.02" cy="1050" r="6.5" fill="#fff" stroke="#ff0000" stroke-width="1.05"/>
<circle cx="1515.58" cy="1050" r="6.5" fill="#fff" stroke="#ff0000" stroke-width="1.05"/>
<circle cx="1532.14" cy="1050" r="6.5" fill="#fff" stroke="#ff0000" stroke-width="1.05"/>
<circle cx="1548.7" cy="1050" r="6.5" fill="#fff" stroke="#ff0000" stroke-width="1.05"/>
<circle cx="1565.26" cy="1050" r="6.5" fill="#fff" stroke="#ff0000" stroke-width="1.05"/>
<circle cx="1581.82" cy="1050" r="6.5" fill="#fff" stroke="#ff0000" stroke-width="1.05"/>
<circle cx="1598.38" cy="1050" r="6.5" fill="#fff" stroke="#ff0000" stroke-width="1.05"/>
<circle cx="1614.94" cy="1050" r="6.5" fill="#fff" stroke="#ff0000" stroke-width="1.05"/>
<circle cx="1631.5" cy="1050" r="6.5" fill="#fff" stroke="#ff0000" stroke-width="1.05"/>
<path d="M969.1,1050.97C971.86,1050.97 980.14,1050.97 985.66,1050.97C991.18,1050.97 996.7,1051.71 1002.22,1050.97C1007.74,1050.22 1013.26,1051.49 1018.78,1046.51C1024.3,1041.52 1029.82,1037.82 1035.34,1021.05C1040.86,1004.29 1046.38,966.31 1051.9,945.9C1057.42,925.5 1062.94,907.52 1068.46,898.63C1073.98,889.74 1079.5,896.41 1085.02,892.57C1090.54,888.73 1096.06,885.09 1101.58,875.6C1107.1,866.11 1112.62,852.97 1118.14,835.6C1123.66,818.23 1129.18,791.56 1134.7,771.36C1140.22,751.16 1145.74,727.32 1151.26,714.39C1156.78,701.46 1162.3,692.04 1167.82,693.78C1173.34,695.52 1178.86,708.65 1184.38,724.81C1189.9,740.97 1195.42,768.65 1200.94,790.75C1206.46,812.85 1211.98,837.13 1217.5,857.42C1223.02,877.7 1228.54,896.51 1234.06,912.47C1239.58,928.42 1245.1,941.65 1250.62,953.17C1256.14,964.68 1261.66,973.32 1267.18,981.57C1272.7,989.82 1278.22,996.62 1283.74,1002.67C1289.26,1008.72 1294.78,1013.52 1300.3,1017.87C1305.82,1022.22 1311.34,1025.73 1316.86,1028.77C1322.38,1031.8 1327.9,1034 1333.42,1036.07C1338.94,1038.13 1344.46,1039.83 1349.98,1041.17C1355.5,1042.5 1361.02,1043.22 1366.54,1044.07C1372.06,1044.92 1377.58,1045.7 1383.1,1046.27C1388.62,1046.83 1394.14,1047.02 1399.66,1047.47C1405.18,1047.92 1410.7,1048.65 1416.22,1048.97C1421.74,1049.28 1427.26,1049.15 1432.78,1049.37C1438.3,1049.58 1443.82,1050.08 1449.34,1050.27C1454.86,1050.45 1460.38,1050.42 1465.9,1050.47C1471.42,1050.52 1476.94,1050.53 1482.46,1050.57C1487.98,1050.6 1493.5,1050.63 1499.02,1050.67C1504.54,1050.7 1510.06,1050.75 1515.58,1050.77C1521.1,1050.78 1526.62,1050.77 1532.14,1050.77C1537.66,1050.77 1543.18,1050.77 1548.7,1050.77C1554.22,1050.77 1559.74,1050.77 1565.26,1050.77C1570.78,1050.77 1576.3,1050.77 1581.82,1050.77C1587.34,1050.77 1592.86,1050.77 1598.38,1050.77C1603.9,1050.77 1609.42,1050.77 1614.94,1050.77C1620.46,1050.77 1628.74,1050.77 1631.5,1050.77" fill="none" stroke="#0000ff" stroke-width="3.5" stroke-linejoin="round" stroke-linecap="round"/>
<path d="M969.1,1041.9L977.1,1055.5L961.1,1055.5Z" fill="#fff" stroke="#0000ff" stroke-width="1.05"/>
<path d="M985.66,1041.9L993.66,1055.5L977.66,1055.5Z" fill="#fff" stroke="#0000ff" stroke-width="1.05"/>
<path d="M1002.22,1041.9L1010.22,1055.5L994.22,1055.5Z" fill="#fff" stroke="#0000ff" stroke-width="1.05"/>
<path d="M1018.78,1037.44L1026.78,1051.04L1010.78,1051.04Z" fill="#fff" stroke="#0000ff" stroke-width="1.05"/>
<path d="M1035.34,1011.99L1043.34,1025.59L1027.34,1025.59Z" fill="#fff" stroke="#0000ff" stroke-width="1.05"/>
<path d="M1051.9,936.84L1059.9,950.44L1043.9,950.44Z" fill="#fff" stroke="#0000ff" stroke-width="1.05"/>
<path d="M1068.46,889.56L1076.46,903.16L1060.46,903.16Z" fill="#fff" stroke="#0000ff" stroke-width="1.05"/>
<path d="M1085.02,883.5L1093.02,897.1L1077.02,897.1Z" fill="#fff" stroke="#0000ff" stroke-width="1.05"/>
<path d="M1101.58,866.53L1109.58,880.13L1093.58,880.13Z" fill="#fff" stroke="#0000ff" stroke-width="1.05"/>
<path d="M1118.14,826.53L1126.14,840.13L1110.14,840.13Z" fill="#fff" stroke="#0000ff" stroke-width="1.05"/>
<path d="M1134.7,762.29L1142.7,775.89L1126.7,775.89Z" fill="#fff" stroke="#0000ff" stroke-width="1.05"/>
<path d="M1151.26,705.32L1159.26,718.92L1143.26,718.92Z" fill="#fff" stroke="#0000ff" stroke-width="1.05"/>
<path d="M1167.82,684.72L1175.82,698.32L1159.82,698.32Z" fill="#fff" stroke="#0000ff" stroke-width="1.05"/>
<path d="M1184.38,715.75L1192.38,729.35L1176.38,729.35Z" fill="#fff" stroke="#0000ff" stroke-width="1.05"/>
<path d="M1200.94,781.68L1208.94,795.28L1192.94,795.28Z" fill="#fff" stroke="#0000ff" stroke-width="1.05"/>
<path d="M1217.5,848.35L1225.5,861.95L1209.5,861.95Z" fill="#fff" stroke="#0000ff" stroke-width="1.05"/>
<path d="M1234.06,903.4L1242.06,917L1226.06,917Z" fill="#fff" stroke="#0000ff" stroke-width="1.05"/>
<path d="M1250.62,944.1L1258.62,957.7L1242.62,957.7Z" fill="#fff" stroke="#0000ff" stroke-width="1.05"/>
<path d="M1267.18,972.5L1275.18,986.1L1259.18,986.1Z" fill="#fff" stroke="#0000ff" stroke-width="1.05"/>
<path d="M1283.74,993.6L1291.74,1007.2L1275.74,1007.2Z" fill="#fff" stroke="#0000ff" stroke-width="1.05"/>
<path d="M1300.3,1008.8L1308.3,1022.4L1292.3,1022.4Z" fill="#fff" stroke="#0000ff" stroke-width="1.05"/>
<path d="M1316.86,1019.7L1324.86,1033.3L1308.86,1033.3Z" fill="#fff" stroke="#0000ff" stroke-width="1.05"/>
<path d="M1333.42,1027L1341.42,1040.6L1325.42,1040.6Z" fill="#fff" stroke="#0000ff" stroke-width="1.05"/>
<path d="M1349.98,1032.1L1357.98,1045.7L1341.98,1045.7Z" fill="#fff" stroke="#0000ff" stroke-width="1.05"/>
<path d="M1366.54,1035L1374.54,1048.6L1358.54,1048.6Z" fill="#fff" stroke="#0000ff" stroke-width="1.05"/>
<path d="M1383.1,1037.2L1391.1,1050.8L1375.1,1050.8Z" fill="#fff" stroke="#0000ff" stroke-width="1.05"/>
<path d="M1399.66,1038.4L1407.66,1052L1391.66,1052Z" fill="#fff" stroke="#0000ff" stroke-width="1.05"/>
<path d="M1416.22,1039.9L1424.22,1053.5L1408.22,1053.5Z" fill="#fff" stroke="#0000ff" stroke-width="1.05"/>
<path d="M1432.78,1040.3L1440.78,1053.9L1424.78,1053.9Z" fill="#fff" stroke="#0000ff" stroke-width="1.05"/>
<path d="M1449.34,1041.2L1457.34,1054.8L1441.34,1054.8Z" fill="#fff" stroke="#0000ff" stroke-width="1.05"/>
<path d="M1465.9,1041.4L1473.9,1055L1457.9,1055Z" fill="#fff" stroke="#0000ff" stroke-width="1.05"/>
<path d="M1482.46,1041.5L1490.46,1055.1L1474.46,1055.1Z" fill="#fff" stroke="#0000ff" stroke-width="1.05"/>
<path d="M1499.02,1041.6L1507.02,1055.2L1491.02,1055.2Z" fill="#fff" stroke="#0000ff" stroke-width="1.05"/>
<path d="M1515.58,1041.7L1523.58,1055.3L1507.58,1055.3Z" fill="#fff" stroke="#0000ff" stroke-width="1.05"/>
<path d="M1532.14,1041.7L1540.14,1055.3L1524.14,1055.3Z" fill="#fff" stroke="#0000ff" stroke-width="1.05"/>
<path d="M1548.7,1041.7L1556.7,1055.3L1540.7,1055.3Z" fill="#fff" stroke="#0000ff" stroke-width="1.05"/>
<path d="M1565.26,1041.7L1573.26,1055.3L1557.26,1055.3Z" fill="#fff" stroke="#0000ff" stroke-width="1.05"/>
<path d="M1581.82,1041.7L1589.82,1055.3L1573.82,1055.3Z" fill="#fff" stroke="#0000ff" stroke-width="1.05"/>
<path d="M1598.38,1041.7L1606.38,1055.3L1590.38,1055.3Z" fill="#fff" stroke="#0000ff" stroke-width="1.05"/>
<path d="M1614.94,1041.7L1622.94,1055.3L1606.94,1055.3Z" fill="#fff" stroke="#0000ff" stroke-width="1.05"/>
<path d="M1631.5,1041.7L1639.5,1055.3L1623.5,1055.3Z" fill="#fff" stroke="#0000ff" stroke-width="1.05"/>
<path d="M974.39,1048.7C975.76,1048.7 979.78,1048.7 982.56,1048.7C985.35,1048.7 988.2,1048.7 991.12,1048.7C994.04,1048.7 997.03,1048.7 1000.09,1048.7C1003.15,1048.7 1006.27,1048.65 1009.48,1048.7C1012.68,1048.75 1015.96,1051.57 1019.31,1049C1022.67,1046.43 1026.1,1042.38 1029.62,1033.3C1033.13,1024.22 1036.73,1008.63 1040.41,994.5C1044.09,980.37 1047.86,960.42 1051.71,948.5C1055.57,936.58 1059.52,928.25 1063.56,923C1067.6,917.75 1071.73,919.02 1075.96,917C1080.19,914.98 1084.52,915.55 1088.96,910.9C1093.39,906.25 1097.92,899.4 1102.57,889.1C1107.21,878.8 1111.96,866.48 1116.82,849.1C1121.69,831.72 1126.66,807.23 1131.76,784.8C1136.86,762.37 1142.07,729.32 1147.4,714.5C1152.74,699.68 1158.2,693.27 1163.79,695.9C1169.38,698.53 1175.1,709.82 1180.96,730.3C1186.82,750.78 1192.8,789.85 1198.94,818.8C1205.08,847.75 1211.35,880.13 1217.78,904C1224.2,927.87 1230.77,946.83 1237.51,962C1244.24,977.17 1251.12,986.33 1258.17,995C1265.23,1003.67 1272.43,1008.33 1279.82,1014C1287.21,1019.67 1294.76,1024.33 1302.5,1029C1310.24,1033.67 1318.15,1038.67 1326.25,1042C1334.36,1045.33 1342.65,1047.58 1351.14,1049C1359.63,1050.42 1368.31,1050.22 1377.2,1050.5C1386.1,1050.78 1395.19,1050.67 1404.51,1050.7C1413.82,1050.73 1423.35,1050.7 1433.11,1050.7C1442.87,1050.7 1452.84,1050.7 1463.06,1050.7C1473.29,1050.7 1483.74,1050.7 1494.45,1050.7C1505.16,1050.7 1516.1,1050.7 1527.32,1050.7C1538.54,1050.7 1550,1050.7 1561.75,1050.7C1573.5,1050.7 1585.51,1050.7 1597.82,1050.7C1610.13,1050.7 1629.31,1050.7 1635.6,1050.7" fill="none" stroke="#ff8000" stroke-width="3.3" stroke-linejoin="round" stroke-linecap="round"/>
<path d="M974.39,1057.77L982.39,1044.17L966.39,1044.17Z" fill="#fff" stroke="#ff8000" stroke-width="1.05"/>
<path d="M982.56,1057.77L990.56,1044.17L974.56,1044.17Z" fill="#fff" stroke="#ff8000" stroke-width="1.05"/>
<path d="M991.12,1057.77L999.12,1044.17L983.12,1044.17Z" fill="#fff" stroke="#ff8000" stroke-width="1.05"/>
<path d="M1000.09,1057.77L1008.09,1044.17L992.09,1044.17Z" fill="#fff" stroke="#ff8000" stroke-width="1.05"/>
<path d="M1009.48,1057.77L1017.48,1044.17L1001.48,1044.17Z" fill="#fff" stroke="#ff8000" stroke-width="1.05"/>
<path d="M1019.31,1058.07L1027.31,1044.47L1011.31,1044.47Z" fill="#fff" stroke="#ff8000" stroke-width="1.05"/>
<path d="M1029.62,1042.37L1037.62,1028.77L1021.62,1028.77Z" fill="#fff" stroke="#ff8000" stroke-width="1.05"/>
<path d="M1040.41,1003.57L1048.41,989.97L1032.41,989.97Z" fill="#fff" stroke="#ff8000" stroke-width="1.05"/>
<path d="M1051.71,957.57L1059.71,943.97L1043.71,943.97Z" fill="#fff" stroke="#ff8000" stroke-width="1.05"/>
<path d="M1063.56,932.07L1071.56,918.47L1055.56,918.47Z" fill="#fff" stroke="#ff8000" stroke-width="1.05"/>
<path d="M1075.96,926.07L1083.96,912.47L1067.96,912.47Z" fill="#fff" stroke="#ff8000" stroke-width="1.05"/>
<path d="M1088.96,919.97L1096.96,906.37L1080.96,906.37Z" fill="#fff" stroke="#ff8000" stroke-width="1.05"/>
<path d="M1102.57,898.17L1110.57,884.57L1094.57,884.57Z" fill="#fff" stroke="#ff8000" stroke-width="1.05"/>
<path d="M1116.82,858.17L1124.82,844.57L1108.82,844.57Z" fill="#fff" stroke="#ff8000" stroke-width="1.05"/>
<path d="M1131.76,793.87L1139.76,780.27L1123.76,780.27Z" fill="#fff" stroke="#ff8000" stroke-width="1.05"/>
<path d="M1147.4,723.57L1155.4,709.97L1139.4,709.97Z" fill="#fff" stroke="#ff8000" stroke-width="1.05"/>
<path d="M1163.79,704.97L1171.79,691.37L1155.79,691.37Z" fill="#fff" stroke="#ff8000" stroke-width="1.05"/>
<path d="M1180.96,739.37L1188.96,725.77L1172.96,725.77Z" fill="#fff" stroke="#ff8000" stroke-width="1.05"/>
<path d="M1198.94,827.87L1206.94,814.27L1190.94,814.27Z" fill="#fff" stroke="#ff8000" stroke-width="1.05"/>
<path d="M1217.78,913.07L1225.78,899.47L1209.78,899.47Z" fill="#fff" stroke="#ff8000" stroke-width="1.05"/>
<path d="M1237.51,971.07L1245.51,957.47L1229.51,957.47Z" fill="#fff" stroke="#ff8000" stroke-width="1.05"/>
<path d="M1258.17,1004.07L1266.17,990.47L1250.17,990.47Z" fill="#fff" stroke="#ff8000" stroke-width="1.05"/>
<path d="M1279.82,1023.07L1287.82,1009.47L1271.82,1009.47Z" fill="#fff" stroke="#ff8000" stroke-width="1.05"/>
<path d="M1302.5,1038.07L1310.5,1024.47L1294.5,1024.47Z" fill="#fff" stroke="#ff8000" stroke-width="1.05"/>
<path d="M1326.25,1051.07L1334.25,1037.47L1318.25,1037.47Z" fill="#fff" stroke="#ff8000" stroke-width="1.05"/>
<path d="M1351.14,1058.07L1359.14,1044.47L1343.14,1044.47Z" fill="#fff" stroke="#ff8000" stroke-width="1.05"/>
<path d="M1377.2,1059.57L1385.2,1045.97L1369.2,1045.97Z" fill="#fff" stroke="#ff8000" stroke-width="1.05"/>
<path d="M1404.51,1059.77L1412.51,1046.17L1396.51,1046.17Z" fill="#fff" stroke="#ff8000" stroke-width="1.05"/>
<path d="M1433.11,1059.77L1441.11,1046.17L1425.11,1046.17Z" fill="#fff" stroke="#ff8000" stroke-width="1.05"/>
<path d="M1463.06,1059.77L1471.06,1046.17L1455.06,1046.17Z" fill="#fff" stroke="#ff8000" stroke-width="1.05"/>
<path d="M1494.45,1059.77L1502.45,1046.17L1486.45,1046.17Z" fill="#fff" stroke="#ff8000" stroke-width="1.05"/>
<path d="M1527.32,1059.77L1535.32,1046.17L1519.32,1046.17Z" fill="#fff" stroke="#ff8000" stroke-width="1.05"/>
<path d="M1561.75,1059.77L1569.75,1046.17L1553.75,1046.17Z" fill="#fff" stroke="#ff8000" stroke-width="1.05"/>
<path d="M1597.82,1059.77L1605.82,1046.17L1589.82,1046.17Z" fill="#fff" stroke="#ff8000" stroke-width="1.05"/>
<path d="M1635.6,1059.77L1643.6,1046.17L1627.6,1046.17Z" fill="#fff" stroke="#ff8000" stroke-width="1.05"/>
</g>
<rect x="969.1" y="604" width="666.8" height="447.2" fill="none" stroke="#000" stroke-width="3.5" stroke-linejoin="round"/>
<text x="959" y="1061.85" font-size="38" text-anchor="end" textLength="44.8" lengthAdjust="spacingAndGlyphs">0.0</text>
<text x="959" y="882.97" font-size="38" text-anchor="end" textLength="44.8" lengthAdjust="spacingAndGlyphs">0.5</text>
<text x="959" y="704.09" font-size="38" text-anchor="end" textLength="44.8" lengthAdjust="spacingAndGlyphs">1.0</text>
<text x="969.1" y="1087.5" font-size="38" text-anchor="middle">1</text>
<text x="1135.8" y="1087.5" font-size="38" text-anchor="middle">2</text>
<text x="1302.5" y="1087.5" font-size="38" text-anchor="middle">3</text>
<text x="1469.2" y="1087.5" font-size="38" text-anchor="middle">4</text>
<text x="1635.9" y="1087.5" font-size="38" text-anchor="middle">5</text>
<text x="1312.3" y="1141.2" font-size="49.5" text-anchor="middle" class="ttl">s / S</text>
<text x="0" y="0" font-size="48.5" text-anchor="middle" class="ttl" transform="translate(887.1,834) rotate(-90)">c(s)</text>
<text x="996.8" y="667.2" font-size="26.5" text-anchor="start">(c)</text>
<clipPath id="clipd"><rect x="969.1" y="1206" width="666.8" height="447.2"/></clipPath>
<line x1="969.1" y1="1653.2" x2="978.6" y2="1653.2" stroke="#000" stroke-width="3.5" stroke-linecap="round"/>
<line x1="969.1" y1="1474.32" x2="978.6" y2="1474.32" stroke="#000" stroke-width="3.5" stroke-linecap="round"/>
<line x1="969.1" y1="1295.44" x2="978.6" y2="1295.44" stroke="#000" stroke-width="3.5" stroke-linecap="round"/>
<line x1="969.1" y1="1563.76" x2="974.1" y2="1563.76" stroke="#000" stroke-width="3.5" stroke-linecap="round"/>
<line x1="969.1" y1="1384.88" x2="974.1" y2="1384.88" stroke="#000" stroke-width="3.5" stroke-linecap="round"/>
<line x1="969.1" y1="1653.2" x2="969.1" y2="1643.7" stroke="#000" stroke-width="3.5" stroke-linecap="round"/>
<line x1="1135.8" y1="1653.2" x2="1135.8" y2="1643.7" stroke="#000" stroke-width="3.5" stroke-linecap="round"/>
<line x1="1302.5" y1="1653.2" x2="1302.5" y2="1643.7" stroke="#000" stroke-width="3.5" stroke-linecap="round"/>
<line x1="1469.2" y1="1653.2" x2="1469.2" y2="1643.7" stroke="#000" stroke-width="3.5" stroke-linecap="round"/>
<line x1="1635.9" y1="1653.2" x2="1635.9" y2="1643.7" stroke="#000" stroke-width="3.5" stroke-linecap="round"/>
<g clip-path="url(#clipd)">
<path d="M969.1,1652.47C971.86,1652.47 980.14,1652.47 985.66,1652.47C991.18,1652.47 996.7,1652.77 1002.22,1652.47C1007.74,1652.17 1013.26,1651.87 1018.78,1650.67C1024.3,1649.47 1029.82,1649.53 1035.34,1645.27C1040.86,1641.01 1046.38,1637.35 1051.9,1625.1C1057.42,1612.85 1062.94,1595.41 1068.46,1571.77C1073.98,1548.13 1079.5,1512.86 1085.02,1483.28C1090.54,1453.71 1096.06,1418.76 1101.58,1394.32C1107.1,1369.87 1112.62,1349.67 1118.14,1336.62C1123.66,1323.57 1129.18,1320.13 1134.7,1316.01C1140.22,1311.89 1145.74,1313.22 1151.26,1311.89C1156.78,1310.56 1162.3,1309.83 1167.82,1308.01C1173.34,1306.19 1178.86,1303 1184.38,1300.98C1189.9,1298.96 1195.42,1296.21 1200.94,1295.89C1206.46,1295.57 1211.98,1295.41 1217.5,1299.04C1223.02,1302.68 1228.54,1309.51 1234.06,1317.71C1239.58,1325.91 1245.1,1336.21 1250.62,1348.25C1256.14,1360.29 1261.66,1375.53 1267.18,1389.95C1272.7,1404.38 1278.22,1420.46 1283.74,1434.8C1289.26,1449.14 1294.78,1462.48 1300.3,1476.01C1305.82,1489.55 1311.34,1504.17 1316.86,1516.01C1322.38,1527.85 1327.9,1537.69 1333.42,1547.07C1338.94,1556.44 1344.46,1564.52 1349.98,1572.27C1355.5,1580.02 1361.02,1587.43 1366.54,1593.57C1372.06,1599.7 1377.58,1604.22 1383.1,1609.07C1388.62,1613.92 1394.14,1619.07 1399.66,1622.67C1405.18,1626.27 1410.7,1628.25 1416.22,1630.67C1421.74,1633.08 1427.26,1635.35 1432.78,1637.17C1438.3,1638.98 1443.82,1640.23 1449.34,1641.57C1454.86,1642.9 1460.38,1644.25 1465.9,1645.17C1471.42,1646.08 1476.94,1646.4 1482.46,1647.07C1487.98,1647.73 1493.5,1648.63 1499.02,1649.17C1504.54,1649.7 1510.06,1649.95 1515.58,1650.27C1521.1,1650.58 1526.62,1650.83 1532.14,1651.07C1537.66,1651.3 1543.18,1651.52 1548.7,1651.67C1554.22,1651.82 1559.74,1651.88 1565.26,1651.97C1570.78,1652.05 1576.3,1652.1 1581.82,1652.17C1587.34,1652.23 1592.86,1652.32 1598.38,1652.37C1603.9,1652.42 1609.42,1652.45 1614.94,1652.47C1620.46,1652.48 1628.74,1652.47 1631.5,1652.47" fill="none" stroke="#000000" stroke-width="3.4" stroke-linejoin="round" stroke-linecap="round"/>
<rect x="963.1" y="1646.47" width="12" height="12" fill="#fff" stroke="#000000" stroke-width="1.05"/>
<rect x="979.66" y="1646.47" width="12" height="12" fill="#fff" stroke="#000000" stroke-width="1.05"/>
<rect x="996.22" y="1646.47" width="12" height="12" fill="#fff" stroke="#000000" stroke-width="1.05"/>
<rect x="1012.78" y="1644.67" width="12" height="12" fill="#fff" stroke="#000000" stroke-width="1.05"/>
<rect x="1029.34" y="1639.27" width="12" height="12" fill="#fff" stroke="#000000" stroke-width="1.05"/>
<rect x="1045.9" y="1619.1" width="12" height="12" fill="#fff" stroke="#000000" stroke-width="1.05"/>
<rect x="1062.46" y="1565.77" width="12" height="12" fill="#fff" stroke="#000000" stroke-width="1.05"/>
<rect x="1079.02" y="1477.28" width="12" height="12" fill="#fff" stroke="#000000" stroke-width="1.05"/>
<rect x="1095.58" y="1388.32" width="12" height="12" fill="#fff" stroke="#000000" stroke-width="1.05"/>
<rect x="1112.14" y="1330.62" width="12" height="12" fill="#fff" stroke="#000000" stroke-width="1.05"/>
<rect x="1128.7" y="1310.01" width="12" height="12" fill="#fff" stroke="#000000" stroke-width="1.05"/>
<rect x="1145.26" y="1305.89" width="12" height="12" fill="#fff" stroke="#000000" stroke-width="1.05"/>
<rect x="1161.82" y="1302.01" width="12" height="12" fill="#fff" stroke="#000000" stroke-width="1.05"/>
<rect x="1178.38" y="1294.98" width="12" height="12" fill="#fff" stroke="#000000" stroke-width="1.05"/>
<rect x="1194.94" y="1289.89" width="12" height="12" fill="#fff" stroke="#000000" stroke-width="1.05"/>
<rect x="1211.5" y="1293.04" width="12" height="12" fill="#fff" stroke="#000000" stroke-width="1.05"/>
<rect x="1228.06" y="1311.71" width="12" height="12" fill="#fff" stroke="#000000" stroke-width="1.05"/>
<rect x="1244.62" y="1342.25" width="12" height="12" fill="#fff" stroke="#000000" stroke-width="1.05"/>
<rect x="1261.18" y="1383.95" width="12" height="12" fill="#fff" stroke="#000000" stroke-width="1.05"/>
<rect x="1277.74" y="1428.8" width="12" height="12" fill="#fff" stroke="#000000" stroke-width="1.05"/>
<rect x="1294.3" y="1470.01" width="12" height="12" fill="#fff" stroke="#000000" stroke-width="1.05"/>
<rect x="1310.86" y="1510.01" width="12" height="12" fill="#fff" stroke="#000000" stroke-width="1.05"/>
<rect x="1327.42" y="1541.07" width="12" height="12" fill="#fff" stroke="#000000" stroke-width="1.05"/>
<rect x="1343.98" y="1566.27" width="12" height="12" fill="#fff" stroke="#000000" stroke-width="1.05"/>
<rect x="1360.54" y="1587.57" width="12" height="12" fill="#fff" stroke="#000000" stroke-width="1.05"/>
<rect x="1377.1" y="1603.07" width="12" height="12" fill="#fff" stroke="#000000" stroke-width="1.05"/>
<rect x="1393.66" y="1616.67" width="12" height="12" fill="#fff" stroke="#000000" stroke-width="1.05"/>
<rect x="1410.22" y="1624.67" width="12" height="12" fill="#fff" stroke="#000000" stroke-width="1.05"/>
<rect x="1426.78" y="1631.17" width="12" height="12" fill="#fff" stroke="#000000" stroke-width="1.05"/>
<rect x="1443.34" y="1635.57" width="12" height="12" fill="#fff" stroke="#000000" stroke-width="1.05"/>
<rect x="1459.9" y="1639.17" width="12" height="12" fill="#fff" stroke="#000000" stroke-width="1.05"/>
<rect x="1476.46" y="1641.07" width="12" height="12" fill="#fff" stroke="#000000" stroke-width="1.05"/>
<rect x="1493.02" y="1643.17" width="12" height="12" fill="#fff" stroke="#000000" stroke-width="1.05"/>
<rect x="1509.58" y="1644.27" width="12" height="12" fill="#fff" stroke="#000000" stroke-width="1.05"/>
<rect x="1526.14" y="1645.07" width="12" height="12" fill="#fff" stroke="#000000" stroke-width="1.05"/>
<rect x="1542.7" y="1645.67" width="12" height="12" fill="#fff" stroke="#000000" stroke-width="1.05"/>
<rect x="1559.26" y="1645.97" width="12" height="12" fill="#fff" stroke="#000000" stroke-width="1.05"/>
<rect x="1575.82" y="1646.17" width="12" height="12" fill="#fff" stroke="#000000" stroke-width="1.05"/>
<rect x="1592.38" y="1646.37" width="12" height="12" fill="#fff" stroke="#000000" stroke-width="1.05"/>
<rect x="1608.94" y="1646.47" width="12" height="12" fill="#fff" stroke="#000000" stroke-width="1.05"/>
<rect x="1625.5" y="1646.47" width="12" height="12" fill="#fff" stroke="#000000" stroke-width="1.05"/>
<path d="M969.1,1653C971.86,1653 980.14,1653 985.66,1653C991.18,1653 996.7,1653.65 1002.22,1653C1007.74,1652.35 1013.26,1650.55 1018.78,1649.09C1024.3,1647.63 1029.82,1651.72 1035.34,1644.24C1040.86,1636.77 1046.38,1623.84 1051.9,1604.24C1057.42,1584.65 1062.94,1549.78 1068.46,1526.67C1073.98,1503.56 1079.5,1480.2 1085.02,1465.58C1090.54,1450.95 1096.06,1446.3 1101.58,1438.91C1107.1,1431.52 1112.62,1429.41 1118.14,1421.21C1123.66,1413.01 1129.18,1401.94 1134.7,1389.7C1140.22,1377.45 1145.74,1361.29 1151.26,1347.76C1156.78,1334.22 1162.3,1317.25 1167.82,1308.48C1173.34,1299.72 1178.86,1293.54 1184.38,1295.15C1189.9,1296.77 1195.42,1306.46 1200.94,1318.18C1206.46,1329.9 1211.98,1348.36 1217.5,1365.45C1223.02,1382.55 1228.54,1403.03 1234.06,1420.73C1239.58,1438.42 1245.1,1455.8 1250.62,1471.64C1256.14,1487.47 1261.66,1502.34 1267.18,1515.76C1272.7,1529.17 1278.22,1541.01 1283.74,1552.12C1289.26,1563.23 1294.78,1573.33 1300.3,1582.42C1305.82,1591.52 1311.34,1599.92 1316.86,1606.67C1322.38,1613.41 1327.9,1618.26 1333.42,1622.9C1338.94,1627.54 1344.46,1631.43 1349.98,1634.5C1355.5,1637.57 1361.02,1639.12 1366.54,1641.3C1372.06,1643.48 1377.58,1646.13 1383.1,1647.6C1388.62,1649.07 1394.14,1649.45 1399.66,1650.1C1405.18,1650.75 1410.7,1651.18 1416.22,1651.5C1421.74,1651.82 1427.26,1651.92 1432.78,1652C1438.3,1652.08 1443.82,1652 1449.34,1652C1454.86,1652 1460.38,1652 1465.9,1652C1471.42,1652 1476.94,1652 1482.46,1652C1487.98,1652 1493.5,1652 1499.02,1652C1504.54,1652 1510.06,1652 1515.58,1652C1521.1,1652 1526.62,1652 1532.14,1652C1537.66,1652 1543.18,1652 1548.7,1652C1554.22,1652 1559.74,1652 1565.26,1652C1570.78,1652 1576.3,1652 1581.82,1652C1587.34,1652 1592.86,1652 1598.38,1652C1603.9,1652 1609.42,1652 1614.94,1652C1620.46,1652 1628.74,1652 1631.5,1652" fill="none" stroke="#ff0000" stroke-width="3.5" stroke-linejoin="round" stroke-linecap="round"/>
<circle cx="969.1" cy="1653" r="6.5" fill="#fff" stroke="#ff0000" stroke-width="1.05"/>
<circle cx="985.66" cy="1653" r="6.5" fill="#fff" stroke="#ff0000" stroke-width="1.05"/>
<circle cx="1002.22" cy="1653" r="6.5" fill="#fff" stroke="#ff0000" stroke-width="1.05"/>
<circle cx="1018.78" cy="1649.09" r="6.5" fill="#fff" stroke="#ff0000" stroke-width="1.05"/>
<circle cx="1035.34" cy="1644.24" r="6.5" fill="#fff" stroke="#ff0000" stroke-width="1.05"/>
<circle cx="1051.9" cy="1604.24" r="6.5" fill="#fff" stroke="#ff0000" stroke-width="1.05"/>
<circle cx="1068.46" cy="1526.67" r="6.5" fill="#fff" stroke="#ff0000" stroke-width="1.05"/>
<circle cx="1085.02" cy="1465.58" r="6.5" fill="#fff" stroke="#ff0000" stroke-width="1.05"/>
<circle cx="1101.58" cy="1438.91" r="6.5" fill="#fff" stroke="#ff0000" stroke-width="1.05"/>
<circle cx="1118.14" cy="1421.21" r="6.5" fill="#fff" stroke="#ff0000" stroke-width="1.05"/>
<circle cx="1134.7" cy="1389.7" r="6.5" fill="#fff" stroke="#ff0000" stroke-width="1.05"/>
<circle cx="1151.26" cy="1347.76" r="6.5" fill="#fff" stroke="#ff0000" stroke-width="1.05"/>
<circle cx="1167.82" cy="1308.48" r="6.5" fill="#fff" stroke="#ff0000" stroke-width="1.05"/>
<circle cx="1184.38" cy="1295.15" r="6.5" fill="#fff" stroke="#ff0000" stroke-width="1.05"/>
<circle cx="1200.94" cy="1318.18" r="6.5" fill="#fff" stroke="#ff0000" stroke-width="1.05"/>
<circle cx="1217.5" cy="1365.45" r="6.5" fill="#fff" stroke="#ff0000" stroke-width="1.05"/>
<circle cx="1234.06" cy="1420.73" r="6.5" fill="#fff" stroke="#ff0000" stroke-width="1.05"/>
<circle cx="1250.62" cy="1471.64" r="6.5" fill="#fff" stroke="#ff0000" stroke-width="1.05"/>
<circle cx="1267.18" cy="1515.76" r="6.5" fill="#fff" stroke="#ff0000" stroke-width="1.05"/>
<circle cx="1283.74" cy="1552.12" r="6.5" fill="#fff" stroke="#ff0000" stroke-width="1.05"/>
<circle cx="1300.3" cy="1582.42" r="6.5" fill="#fff" stroke="#ff0000" stroke-width="1.05"/>
<circle cx="1316.86" cy="1606.67" r="6.5" fill="#fff" stroke="#ff0000" stroke-width="1.05"/>
<circle cx="1333.42" cy="1622.9" r="6.5" fill="#fff" stroke="#ff0000" stroke-width="1.05"/>
<circle cx="1349.98" cy="1634.5" r="6.5" fill="#fff" stroke="#ff0000" stroke-width="1.05"/>
<circle cx="1366.54" cy="1641.3" r="6.5" fill="#fff" stroke="#ff0000" stroke-width="1.05"/>
<circle cx="1383.1" cy="1647.6" r="6.5" fill="#fff" stroke="#ff0000" stroke-width="1.05"/>
<circle cx="1399.66" cy="1650.1" r="6.5" fill="#fff" stroke="#ff0000" stroke-width="1.05"/>
<circle cx="1416.22" cy="1651.5" r="6.5" fill="#fff" stroke="#ff0000" stroke-width="1.05"/>
<circle cx="1432.78" cy="1652" r="6.5" fill="#fff" stroke="#ff0000" stroke-width="1.05"/>
<circle cx="1449.34" cy="1652" r="6.5" fill="#fff" stroke="#ff0000" stroke-width="1.05"/>
<circle cx="1465.9" cy="1652" r="6.5" fill="#fff" stroke="#ff0000" stroke-width="1.05"/>
<circle cx="1482.46" cy="1652" r="6.5" fill="#fff" stroke="#ff0000" stroke-width="1.05"/>
<circle cx="1499.02" cy="1652" r="6.5" fill="#fff" stroke="#ff0000" stroke-width="1.05"/>
<circle cx="1515.58" cy="1652" r="6.5" fill="#fff" stroke="#ff0000" stroke-width="1.05"/>
<circle cx="1532.14" cy="1652" r="6.5" fill="#fff" stroke="#ff0000" stroke-width="1.05"/>
<circle cx="1548.7" cy="1652" r="6.5" fill="#fff" stroke="#ff0000" stroke-width="1.05"/>
<circle cx="1565.26" cy="1652" r="6.5" fill="#fff" stroke="#ff0000" stroke-width="1.05"/>
<circle cx="1581.82" cy="1652" r="6.5" fill="#fff" stroke="#ff0000" stroke-width="1.05"/>
<circle cx="1598.38" cy="1652" r="6.5" fill="#fff" stroke="#ff0000" stroke-width="1.05"/>
<circle cx="1614.94" cy="1652" r="6.5" fill="#fff" stroke="#ff0000" stroke-width="1.05"/>
<circle cx="1631.5" cy="1652" r="6.5" fill="#fff" stroke="#ff0000" stroke-width="1.05"/>
<path d="M969.1,1651.97C971.86,1651.97 980.14,1651.97 985.66,1651.97C991.18,1651.97 996.7,1653.28 1002.22,1651.97C1007.74,1650.65 1013.26,1649.44 1018.78,1644.08C1024.3,1638.73 1029.82,1632.08 1035.34,1619.84C1040.86,1607.6 1046.38,1585.3 1051.9,1570.63C1057.42,1555.96 1062.94,1541.42 1068.46,1531.84C1073.98,1522.27 1079.5,1519.92 1085.02,1513.18C1090.54,1506.43 1096.06,1502.67 1101.58,1491.36C1107.1,1480.04 1112.62,1464.17 1118.14,1445.3C1123.66,1426.43 1129.18,1399.36 1134.7,1378.15C1140.22,1356.93 1145.74,1331.68 1151.26,1318.02C1156.78,1304.37 1162.3,1292.97 1167.82,1296.21C1173.34,1299.44 1178.86,1317.82 1184.38,1337.42C1189.9,1357.01 1195.42,1388.53 1200.94,1413.78C1206.46,1439.03 1211.98,1467.24 1217.5,1488.93C1223.02,1510.63 1228.54,1529.01 1234.06,1543.96C1239.58,1558.91 1245.1,1568.81 1250.62,1578.63C1256.14,1588.45 1261.66,1596.29 1267.18,1602.87C1272.7,1609.46 1278.22,1613.5 1283.74,1618.15C1289.26,1622.79 1294.78,1627.24 1300.3,1630.75C1305.82,1634.27 1311.34,1637.1 1316.86,1639.24C1322.38,1641.37 1327.9,1642.41 1333.42,1643.57C1338.94,1644.72 1344.46,1645.52 1349.98,1646.17C1355.5,1646.82 1361.02,1647.08 1366.54,1647.47C1372.06,1647.85 1377.58,1648.08 1383.1,1648.47C1388.62,1648.85 1394.14,1649.38 1399.66,1649.77C1405.18,1650.15 1410.7,1650.48 1416.22,1650.77C1421.74,1651.05 1427.26,1651.3 1432.78,1651.47C1438.3,1651.63 1443.82,1651.72 1449.34,1651.77C1454.86,1651.82 1460.38,1651.77 1465.9,1651.77C1471.42,1651.77 1476.94,1651.77 1482.46,1651.77C1487.98,1651.77 1493.5,1651.77 1499.02,1651.77C1504.54,1651.77 1510.06,1651.77 1515.58,1651.77C1521.1,1651.77 1526.62,1651.77 1532.14,1651.77C1537.66,1651.77 1543.18,1651.77 1548.7,1651.77C1554.22,1651.77 1559.74,1651.77 1565.26,1651.77C1570.78,1651.77 1576.3,1651.77 1581.82,1651.77C1587.34,1651.77 1592.86,1651.77 1598.38,1651.77C1603.9,1651.77 1609.42,1651.77 1614.94,1651.77C1620.46,1651.77 1628.74,1651.77 1631.5,1651.77" fill="none" stroke="#0000ff" stroke-width="3.5" stroke-linejoin="round" stroke-linecap="round"/>
<path d="M969.1,1642.9L977.1,1656.5L961.1,1656.5Z" fill="#fff" stroke="#0000ff" stroke-width="1.05"/>
<path d="M985.66,1642.9L993.66,1656.5L977.66,1656.5Z" fill="#fff" stroke="#0000ff" stroke-width="1.05"/>
<path d="M1002.22,1642.9L1010.22,1656.5L994.22,1656.5Z" fill="#fff" stroke="#0000ff" stroke-width="1.05"/>
<path d="M1018.78,1635.02L1026.78,1648.62L1010.78,1648.62Z" fill="#fff" stroke="#0000ff" stroke-width="1.05"/>
<path d="M1035.34,1610.78L1043.34,1624.38L1027.34,1624.38Z" fill="#fff" stroke="#0000ff" stroke-width="1.05"/>
<path d="M1051.9,1561.56L1059.9,1575.16L1043.9,1575.16Z" fill="#fff" stroke="#0000ff" stroke-width="1.05"/>
<path d="M1068.46,1522.78L1076.46,1536.38L1060.46,1536.38Z" fill="#fff" stroke="#0000ff" stroke-width="1.05"/>
<path d="M1085.02,1504.11L1093.02,1517.71L1077.02,1517.71Z" fill="#fff" stroke="#0000ff" stroke-width="1.05"/>
<path d="M1101.58,1482.29L1109.58,1495.89L1093.58,1495.89Z" fill="#fff" stroke="#0000ff" stroke-width="1.05"/>
<path d="M1118.14,1436.23L1126.14,1449.83L1110.14,1449.83Z" fill="#fff" stroke="#0000ff" stroke-width="1.05"/>
<path d="M1134.7,1369.08L1142.7,1382.68L1126.7,1382.68Z" fill="#fff" stroke="#0000ff" stroke-width="1.05"/>
<path d="M1151.26,1308.96L1159.26,1322.56L1143.26,1322.56Z" fill="#fff" stroke="#0000ff" stroke-width="1.05"/>
<path d="M1167.82,1287.14L1175.82,1300.74L1159.82,1300.74Z" fill="#fff" stroke="#0000ff" stroke-width="1.05"/>
<path d="M1184.38,1328.35L1192.38,1341.95L1176.38,1341.95Z" fill="#fff" stroke="#0000ff" stroke-width="1.05"/>
<path d="M1200.94,1404.72L1208.94,1418.32L1192.94,1418.32Z" fill="#fff" stroke="#0000ff" stroke-width="1.05"/>
<path d="M1217.5,1479.87L1225.5,1493.47L1209.5,1493.47Z" fill="#fff" stroke="#0000ff" stroke-width="1.05"/>
<path d="M1234.06,1534.9L1242.06,1548.5L1226.06,1548.5Z" fill="#fff" stroke="#0000ff" stroke-width="1.05"/>
<path d="M1250.62,1569.56L1258.62,1583.16L1242.62,1583.16Z" fill="#fff" stroke="#0000ff" stroke-width="1.05"/>
<path d="M1267.18,1593.81L1275.18,1607.41L1259.18,1607.41Z" fill="#fff" stroke="#0000ff" stroke-width="1.05"/>
<path d="M1283.74,1609.08L1291.74,1622.68L1275.74,1622.68Z" fill="#fff" stroke="#0000ff" stroke-width="1.05"/>
<path d="M1300.3,1621.68L1308.3,1635.28L1292.3,1635.28Z" fill="#fff" stroke="#0000ff" stroke-width="1.05"/>
<path d="M1316.86,1630.17L1324.86,1643.77L1308.86,1643.77Z" fill="#fff" stroke="#0000ff" stroke-width="1.05"/>
<path d="M1333.42,1634.5L1341.42,1648.1L1325.42,1648.1Z" fill="#fff" stroke="#0000ff" stroke-width="1.05"/>
<path d="M1349.98,1637.1L1357.98,1650.7L1341.98,1650.7Z" fill="#fff" stroke="#0000ff" stroke-width="1.05"/>
<path d="M1366.54,1638.4L1374.54,1652L1358.54,1652Z" fill="#fff" stroke="#0000ff" stroke-width="1.05"/>
<path d="M1383.1,1639.4L1391.1,1653L1375.1,1653Z" fill="#fff" stroke="#0000ff" stroke-width="1.05"/>
<path d="M1399.66,1640.7L1407.66,1654.3L1391.66,1654.3Z" fill="#fff" stroke="#0000ff" stroke-width="1.05"/>
<path d="M1416.22,1641.7L1424.22,1655.3L1408.22,1655.3Z" fill="#fff" stroke="#0000ff" stroke-width="1.05"/>
<path d="M1432.78,1642.4L1440.78,1656L1424.78,1656Z" fill="#fff" stroke="#0000ff" stroke-width="1.05"/>
<path d="M1449.34,1642.7L1457.34,1656.3L1441.34,1656.3Z" fill="#fff" stroke="#0000ff" stroke-width="1.05"/>
<path d="M1465.9,1642.7L1473.9,1656.3L1457.9,1656.3Z" fill="#fff" stroke="#0000ff" stroke-width="1.05"/>
<path d="M1482.46,1642.7L1490.46,1656.3L1474.46,1656.3Z" fill="#fff" stroke="#0000ff" stroke-width="1.05"/>
<path d="M1499.02,1642.7L1507.02,1656.3L1491.02,1656.3Z" fill="#fff" stroke="#0000ff" stroke-width="1.05"/>
<path d="M1515.58,1642.7L1523.58,1656.3L1507.58,1656.3Z" fill="#fff" stroke="#0000ff" stroke-width="1.05"/>
<path d="M1532.14,1642.7L1540.14,1656.3L1524.14,1656.3Z" fill="#fff" stroke="#0000ff" stroke-width="1.05"/>
<path d="M1548.7,1642.7L1556.7,1656.3L1540.7,1656.3Z" fill="#fff" stroke="#0000ff" stroke-width="1.05"/>
<path d="M1565.26,1642.7L1573.26,1656.3L1557.26,1656.3Z" fill="#fff" stroke="#0000ff" stroke-width="1.05"/>
<path d="M1581.82,1642.7L1589.82,1656.3L1573.82,1656.3Z" fill="#fff" stroke="#0000ff" stroke-width="1.05"/>
<path d="M1598.38,1642.7L1606.38,1656.3L1590.38,1656.3Z" fill="#fff" stroke="#0000ff" stroke-width="1.05"/>
<path d="M1614.94,1642.7L1622.94,1656.3L1606.94,1656.3Z" fill="#fff" stroke="#0000ff" stroke-width="1.05"/>
<path d="M1631.5,1642.7L1639.5,1656.3L1623.5,1656.3Z" fill="#fff" stroke="#0000ff" stroke-width="1.05"/>
<path d="M974.39,1652.4C975.76,1652.4 979.78,1652.4 982.56,1652.4C985.35,1652.4 988.2,1652.4 991.12,1652.4C994.04,1652.4 997.03,1652.4 1000.09,1652.4C1003.15,1652.4 1006.27,1653.07 1009.48,1652.4C1012.68,1651.73 1015.96,1651.38 1019.31,1648.4C1022.67,1645.42 1026.1,1641.32 1029.62,1634.5C1033.13,1627.68 1036.73,1616.32 1040.41,1607.5C1044.09,1598.68 1047.86,1588.1 1051.71,1581.6C1055.57,1575.1 1059.52,1571.85 1063.56,1568.5C1067.6,1565.15 1071.73,1565.42 1075.96,1561.5C1080.19,1557.58 1084.52,1553.25 1088.96,1545C1093.39,1536.75 1097.92,1528 1102.57,1512C1107.21,1496 1111.96,1473.63 1116.82,1449C1121.69,1424.37 1126.66,1389.23 1131.76,1364.2C1136.86,1339.17 1142.07,1306.15 1147.4,1298.8C1152.74,1291.45 1158.2,1299.7 1163.79,1320.1C1169.38,1340.5 1175.1,1386.97 1180.96,1421.2C1186.82,1455.43 1192.8,1497.42 1198.94,1525.5C1205.08,1553.58 1211.35,1573.95 1217.78,1589.7C1224.2,1605.45 1230.77,1612.53 1237.51,1620C1244.24,1627.47 1251.12,1630.67 1258.17,1634.5C1265.23,1638.33 1272.43,1640.77 1279.82,1643C1287.21,1645.23 1294.76,1646.73 1302.5,1647.9C1310.24,1649.07 1318.15,1649.32 1326.25,1650C1334.36,1650.68 1342.65,1651.45 1351.14,1652C1359.63,1652.55 1368.31,1653.08 1377.2,1653.3C1386.1,1653.52 1395.19,1653.3 1404.51,1653.3C1413.82,1653.3 1423.35,1653.3 1433.11,1653.3C1442.87,1653.3 1452.84,1653.3 1463.06,1653.3C1473.29,1653.3 1483.74,1653.3 1494.45,1653.3C1505.16,1653.3 1516.1,1653.3 1527.32,1653.3C1538.54,1653.3 1550,1653.3 1561.75,1653.3C1573.5,1653.3 1585.51,1653.3 1597.82,1653.3C1610.13,1653.3 1629.31,1653.3 1635.6,1653.3" fill="none" stroke="#ff8000" stroke-width="3.3" stroke-linejoin="round" stroke-linecap="round"/>
<path d="M974.39,1661.47L982.39,1647.87L966.39,1647.87Z" fill="#fff" stroke="#ff8000" stroke-width="1.05"/>
<path d="M982.56,1661.47L990.56,1647.87L974.56,1647.87Z" fill="#fff" stroke="#ff8000" stroke-width="1.05"/>
<path d="M991.12,1661.47L999.12,1647.87L983.12,1647.87Z" fill="#fff" stroke="#ff8000" stroke-width="1.05"/>
<path d="M1000.09,1661.47L1008.09,1647.87L992.09,1647.87Z" fill="#fff" stroke="#ff8000" stroke-width="1.05"/>
<path d="M1009.48,1661.47L1017.48,1647.87L1001.48,1647.87Z" fill="#fff" stroke="#ff8000" stroke-width="1.05"/>
<path d="M1019.31,1657.47L1027.31,1643.87L1011.31,1643.87Z" fill="#fff" stroke="#ff8000" stroke-width="1.05"/>
<path d="M1029.62,1643.57L1037.62,1629.97L1021.62,1629.97Z" fill="#fff" stroke="#ff8000" stroke-width="1.05"/>
<path d="M1040.41,1616.57L1048.41,1602.97L1032.41,1602.97Z" fill="#fff" stroke="#ff8000" stroke-width="1.05"/>
<path d="M1051.71,1590.67L1059.71,1577.07L1043.71,1577.07Z" fill="#fff" stroke="#ff8000" stroke-width="1.05"/>
<path d="M1063.56,1577.57L1071.56,1563.97L1055.56,1563.97Z" fill="#fff" stroke="#ff8000" stroke-width="1.05"/>
<path d="M1075.96,1570.57L1083.96,1556.97L1067.96,1556.97Z" fill="#fff" stroke="#ff8000" stroke-width="1.05"/>
<path d="M1088.96,1554.07L1096.96,1540.47L1080.96,1540.47Z" fill="#fff" stroke="#ff8000" stroke-width="1.05"/>
<path d="M1102.57,1521.07L1110.57,1507.47L1094.57,1507.47Z" fill="#fff" stroke="#ff8000" stroke-width="1.05"/>
<path d="M1116.82,1458.07L1124.82,1444.47L1108.82,1444.47Z" fill="#fff" stroke="#ff8000" stroke-width="1.05"/>
<path d="M1131.76,1373.27L1139.76,1359.67L1123.76,1359.67Z" fill="#fff" stroke="#ff8000" stroke-width="1.05"/>
<path d="M1147.4,1307.87L1155.4,1294.27L1139.4,1294.27Z" fill="#fff" stroke="#ff8000" stroke-width="1.05"/>
<path d="M1163.79,1329.17L1171.79,1315.57L1155.79,1315.57Z" fill="#fff" stroke="#ff8000" stroke-width="1.05"/>
<path d="M1180.96,1430.27L1188.96,1416.67L1172.96,1416.67Z" fill="#fff" stroke="#ff8000" stroke-width="1.05"/>
<path d="M1198.94,1534.57L1206.94,1520.97L1190.94,1520.97Z" fill="#fff" stroke="#ff8000" stroke-width="1.05"/>
<path d="M1217.78,1598.77L1225.78,1585.17L1209.78,1585.17Z" fill="#fff" stroke="#ff8000" stroke-width="1.05"/>
<path d="M1237.51,1629.07L1245.51,1615.47L1229.51,1615.47Z" fill="#fff" stroke="#ff8000" stroke-width="1.05"/>
<path d="M1258.17,1643.57L1266.17,1629.97L1250.17,1629.97Z" fill="#fff" stroke="#ff8000" stroke-width="1.05"/>
<path d="M1279.82,1652.07L1287.82,1638.47L1271.82,1638.47Z" fill="#fff" stroke="#ff8000" stroke-width="1.05"/>
<path d="M1302.5,1656.97L1310.5,1643.37L1294.5,1643.37Z" fill="#fff" stroke="#ff8000" stroke-width="1.05"/>
<path d="M1326.25,1659.07L1334.25,1645.47L1318.25,1645.47Z" fill="#fff" stroke="#ff8000" stroke-width="1.05"/>
<path d="M1351.14,1661.07L1359.14,1647.47L1343.14,1647.47Z" fill="#fff" stroke="#ff8000" stroke-width="1.05"/>
<path d="M1377.2,1662.37L1385.2,1648.77L1369.2,1648.77Z" fill="#fff" stroke="#ff8000" stroke-width="1.05"/>
<path d="M1404.51,1662.37L1412.51,1648.77L1396.51,1648.77Z" fill="#fff" stroke="#ff8000" stroke-width="1.05"/>
<path d="M1433.11,1662.37L1441.11,1648.77L1425.11,1648.77Z" fill="#fff" stroke="#ff8000" stroke-width="1.05"/>
<path d="M1463.06,1662.37L1471.06,1648.77L1455.06,1648.77Z" fill="#fff" stroke="#ff8000" stroke-width="1.05"/>
<path d="M1494.45,1662.37L1502.45,1648.77L1486.45,1648.77Z" fill="#fff" stroke="#ff8000" stroke-width="1.05"/>
<path d="M1527.32,1662.37L1535.32,1648.77L1519.32,1648.77Z" fill="#fff" stroke="#ff8000" stroke-width="1.05"/>
<path d="M1561.75,1662.37L1569.75,1648.77L1553.75,1648.77Z" fill="#fff" stroke="#ff8000" stroke-width="1.05"/>
<path d="M1597.82,1662.37L1605.82,1648.77L1589.82,1648.77Z" fill="#fff" stroke="#ff8000" stroke-width="1.05"/>
<path d="M1635.6,1662.37L1643.6,1648.77L1627.6,1648.77Z" fill="#fff" stroke="#ff8000" stroke-width="1.05"/>
</g>
<rect x="969.1" y="1206" width="666.8" height="447.2" fill="none" stroke="#000" stroke-width="3.5" stroke-linejoin="round"/>
<text x="959" y="1663.85" font-size="38" text-anchor="end" textLength="44.8" lengthAdjust="spacingAndGlyphs">0.0</text>
<text x="959" y="1484.97" font-size="38" text-anchor="end" textLength="44.8" lengthAdjust="spacingAndGlyphs">0.5</text>
<text x="959" y="1306.09" font-size="38" text-anchor="end" textLength="44.8" lengthAdjust="spacingAndGlyphs">1.0</text>
<text x="969.1" y="1689.5" font-size="38" text-anchor="middle">1</text>
<text x="1135.8" y="1689.5" font-size="38" text-anchor="middle">2</text>
<text x="1302.5" y="1689.5" font-size="38" text-anchor="middle">3</text>
<text x="1469.2" y="1689.5" font-size="38" text-anchor="middle">4</text>
<text x="1635.9" y="1689.5" font-size="38" text-anchor="middle">5</text>
<text x="1312.3" y="1743.2" font-size="49.5" text-anchor="middle" class="ttl">s / S</text>
<text x="0" y="0" font-size="48.5" text-anchor="middle" class="ttl" transform="translate(887.1,1436) rotate(-90)">c(s)</text>
<text x="992.1" y="1266" font-size="26.5" text-anchor="start">(d)</text>
<text x="650" y="69" font-size="29" text-anchor="start">pH</text>
<line x1="579.5" y1="99.3" x2="599.6" y2="99.3" stroke="#000000" stroke-width="3.6" stroke-linecap="round"/>
<line x1="618.6" y1="99.3" x2="638.8" y2="99.3" stroke="#000000" stroke-width="3.6" stroke-linecap="round"/>
<rect x="603.1" y="93.3" width="12" height="12" fill="#fff" stroke="#000000" stroke-width="1.05"/>
<text x="645.4" y="107.9" font-size="26.8" text-anchor="start">3.8</text>
<line x1="579.5" y1="130.6" x2="599.6" y2="130.6" stroke="#ff0000" stroke-width="3.6" stroke-linecap="round"/>
<line x1="618.6" y1="130.6" x2="638.8" y2="130.6" stroke="#ff0000" stroke-width="3.6" stroke-linecap="round"/>
<circle cx="609.1" cy="130.6" r="6.5" fill="#fff" stroke="#ff0000" stroke-width="1.05"/>
<text x="645.4" y="139.2" font-size="26.8" text-anchor="start">5.9</text>
<line x1="579.5" y1="162" x2="599.6" y2="162" stroke="#0000ff" stroke-width="3.6" stroke-linecap="round"/>
<line x1="618.6" y1="162" x2="638.8" y2="162" stroke="#0000ff" stroke-width="3.6" stroke-linecap="round"/>
<path d="M609.1,152.93L617.1,166.53L601.1,166.53Z" fill="#fff" stroke="#0000ff" stroke-width="1.05"/>
<text x="645.4" y="170.6" font-size="26.8" text-anchor="start">8.9</text>
<text x="611.2" y="325" font-size="28.3" text-anchor="start">0.1 mg/mL</text>
<line x1="1412" y1="35" x2="1432" y2="35" stroke="#000000" stroke-width="3.6" stroke-linecap="round"/>
<line x1="1451" y1="35" x2="1471" y2="35" stroke="#000000" stroke-width="3.6" stroke-linecap="round"/>
<rect x="1435.5" y="29" width="12" height="12" fill="#fff" stroke="#000000" stroke-width="1.05"/>
<text x="1477.8" y="43" font-size="24.8" text-anchor="start" textLength="116.5" lengthAdjust="spacingAndGlyphs">0.1 mg/mL</text>
<line x1="1412" y1="66.4" x2="1432" y2="66.4" stroke="#ff0000" stroke-width="3.6" stroke-linecap="round"/>
<line x1="1451" y1="66.4" x2="1471" y2="66.4" stroke="#ff0000" stroke-width="3.6" stroke-linecap="round"/>
<circle cx="1441.5" cy="66.4" r="6.5" fill="#fff" stroke="#ff0000" stroke-width="1.05"/>
<text x="1477.8" y="74.4" font-size="24.8" text-anchor="start" textLength="116.5" lengthAdjust="spacingAndGlyphs">0.4 mg/mL</text>
<line x1="1412" y1="97.6" x2="1432" y2="97.6" stroke="#0000ff" stroke-width="3.6" stroke-linecap="round"/>
<line x1="1451" y1="97.6" x2="1471" y2="97.6" stroke="#0000ff" stroke-width="3.6" stroke-linecap="round"/>
<path d="M1441.5,88.53L1449.5,102.13L1433.5,102.13Z" fill="#fff" stroke="#0000ff" stroke-width="1.05"/>
<text x="1477.8" y="105.6" font-size="24.8" text-anchor="start" textLength="116.5" lengthAdjust="spacingAndGlyphs">0.7 mg/mL</text>
<line x1="1412" y1="129.7" x2="1432" y2="129.7" stroke="#ff8000" stroke-width="3.6" stroke-linecap="round"/>
<line x1="1451" y1="129.7" x2="1471" y2="129.7" stroke="#ff8000" stroke-width="3.6" stroke-linecap="round"/>
<path d="M1441.5,138.77L1449.5,125.17L1433.5,125.17Z" fill="#fff" stroke="#ff8000" stroke-width="1.05"/>
<text x="1477.8" y="137.7" font-size="24.8" text-anchor="start" textLength="116.5" lengthAdjust="spacingAndGlyphs">1.0 mg/mL</text>
<line x1="1412" y1="632.2" x2="1432" y2="632.2" stroke="#000000" stroke-width="3.6" stroke-linecap="round"/>
<line x1="1451" y1="632.2" x2="1471" y2="632.2" stroke="#000000" stroke-width="3.6" stroke-linecap="round"/>
<rect x="1435.5" y="626.2" width="12" height="12" fill="#fff" stroke="#000000" stroke-width="1.05"/>
<text x="1477.8" y="640.2" font-size="24.8" text-anchor="start" textLength="116.5" lengthAdjust="spacingAndGlyphs">0.1 mg/mL</text>
<line x1="1412" y1="663.6" x2="1432" y2="663.6" stroke="#ff0000" stroke-width="3.6" stroke-linecap="round"/>
<line x1="1451" y1="663.6" x2="1471" y2="663.6" stroke="#ff0000" stroke-width="3.6" stroke-linecap="round"/>
<circle cx="1441.5" cy="663.6" r="6.5" fill="#fff" stroke="#ff0000" stroke-width="1.05"/>
<text x="1477.8" y="671.6" font-size="24.8" text-anchor="start" textLength="116.5" lengthAdjust="spacingAndGlyphs">0.4 mg/mL</text>
<line x1="1412" y1="694.8" x2="1432" y2="694.8" stroke="#0000ff" stroke-width="3.6" stroke-linecap="round"/>
<line x1="1451" y1="694.8" x2="1471" y2="694.8" stroke="#0000ff" stroke-width="3.6" stroke-linecap="round"/>
<path d="M1441.5,685.73L1449.5,699.33L1433.5,699.33Z" fill="#fff" stroke="#0000ff" stroke-width="1.05"/>
<text x="1477.8" y="702.8" font-size="24.8" text-anchor="start" textLength="116.5" lengthAdjust="spacingAndGlyphs">0.7 mg/mL</text>
<line x1="1412" y1="726.9" x2="1432" y2="726.9" stroke="#ff8000" stroke-width="3.6" stroke-linecap="round"/>
<line x1="1451" y1="726.9" x2="1471" y2="726.9" stroke="#ff8000" stroke-width="3.6" stroke-linecap="round"/>
<path d="M1441.5,735.97L1449.5,722.37L1433.5,722.37Z" fill="#fff" stroke="#ff8000" stroke-width="1.05"/>
<text x="1477.8" y="734.9" font-size="24.8" text-anchor="start" textLength="116.5" lengthAdjust="spacingAndGlyphs">1.0 mg/mL</text>
<line x1="1412" y1="1272.7" x2="1432" y2="1272.7" stroke="#000000" stroke-width="3.6" stroke-linecap="round"/>
<line x1="1451" y1="1272.7" x2="1471" y2="1272.7" stroke="#000000" stroke-width="3.6" stroke-linecap="round"/>
<rect x="1435.5" y="1266.7" width="12" height="12" fill="#fff" stroke="#000000" stroke-width="1.05"/>
<text x="1477.8" y="1280.7" font-size="24.8" text-anchor="start" textLength="116.5" lengthAdjust="spacingAndGlyphs">0.1 mg/mL</text>
<line x1="1412" y1="1304.1" x2="1432" y2="1304.1" stroke="#ff0000" stroke-width="3.6" stroke-linecap="round"/>
<line x1="1451" y1="1304.1" x2="1471" y2="1304.1" stroke="#ff0000" stroke-width="3.6" stroke-linecap="round"/>
<circle cx="1441.5" cy="1304.1" r="6.5" fill="#fff" stroke="#ff0000" stroke-width="1.05"/>
<text x="1477.8" y="1312.1" font-size="24.8" text-anchor="start" textLength="116.5" lengthAdjust="spacingAndGlyphs">0.4 mg/mL</text>
<line x1="1412" y1="1335.3" x2="1432" y2="1335.3" stroke="#0000ff" stroke-width="3.6" stroke-linecap="round"/>
<line x1="1451" y1="1335.3" x2="1471" y2="1335.3" stroke="#0000ff" stroke-width="3.6" stroke-linecap="round"/>
<path d="M1441.5,1326.23L1449.5,1339.83L1433.5,1339.83Z" fill="#fff" stroke="#0000ff" stroke-width="1.05"/>
<text x="1477.8" y="1343.3" font-size="24.8" text-anchor="start" textLength="116.5" lengthAdjust="spacingAndGlyphs">0.7 mg/mL</text>
<line x1="1412" y1="1367.4" x2="1432" y2="1367.4" stroke="#ff8000" stroke-width="3.6" stroke-linecap="round"/>
<line x1="1451" y1="1367.4" x2="1471" y2="1367.4" stroke="#ff8000" stroke-width="3.6" stroke-linecap="round"/>
<path d="M1441.5,1376.47L1449.5,1362.87L1433.5,1362.87Z" fill="#fff" stroke="#ff8000" stroke-width="1.05"/>
<text x="1477.8" y="1375.4" font-size="24.8" text-anchor="start" textLength="116.5" lengthAdjust="spacingAndGlyphs">1.0 mg/mL</text>
<text x="1482.5" y="312.2" font-size="27" text-anchor="start" textLength="86.5" lengthAdjust="spacingAndGlyphs">pH=3.8</text>
<text x="1479.2" y="909.9" font-size="27.5" text-anchor="start" textLength="87.2" lengthAdjust="spacingAndGlyphs">pH=5.9</text>
<text x="1477.7" y="1540.5" font-size="27" text-anchor="start" textLength="86.5" lengthAdjust="spacingAndGlyphs">pH=8.9</text>
<line x1="173.8" y1="739.2" x2="496.3" y2="919.6" stroke="#000" stroke-width="2.8" stroke-linecap="round"/>
<line x1="172.1" y1="862.6" x2="656.0" y2="1010.1" stroke="#ff0000" stroke-width="4" stroke-linecap="round"/>
<line x1="173.8" y1="856.8" x2="657.1" y2="1040.7" stroke="#0000ff" stroke-width="4" stroke-linecap="round"/>
<rect x="168.5" y="710.8" width="12" height="12" fill="#fff" stroke="#000" stroke-width="1.05"/>
<rect x="328.1" y="869.5" width="12" height="12" fill="#fff" stroke="#000" stroke-width="1.05"/>
<rect x="488.1" y="888.4" width="12" height="12" fill="#fff" stroke="#000" stroke-width="1.05"/>
<circle cx="174.1" cy="850.5" r="6.5" fill="#fff" stroke="#ff0000" stroke-width="1.05"/>
<circle cx="334.1" cy="924.4" r="6.5" fill="#fff" stroke="#ff0000" stroke-width="1.05"/>
<circle cx="494.1" cy="976.4" r="6.5" fill="#fff" stroke="#ff0000" stroke-width="1.05"/>
<circle cx="654.3" cy="993.8" r="6.5" fill="#fff" stroke="#ff0000" stroke-width="1.05"/>
<path d="M174.1,834L182.1,847.6L166.1,847.6Z" fill="#fff" stroke="#0000ff" stroke-width="1.05"/>
<path d="M334.5,922L342.5,935.6L326.5,935.6Z" fill="#fff" stroke="#0000ff" stroke-width="1.05"/>
<path d="M494.1,977.4L502.1,991L486.1,991Z" fill="#fff" stroke="#0000ff" stroke-width="1.05"/>
<path d="M654.3,1019L662.3,1032.6L646.3,1032.6Z" fill="#fff" stroke="#0000ff" stroke-width="1.05"/>
<rect x="121.1" y="604" width="666.8" height="447.2" fill="none" stroke="#000" stroke-width="3.5" stroke-linejoin="round"/>
<line x1="121.1" y1="1051.2" x2="130.6" y2="1051.2" stroke="#000" stroke-width="3.5" stroke-linecap="round"/>
<line x1="121.1" y1="902.13" x2="130.6" y2="902.13" stroke="#000" stroke-width="3.5" stroke-linecap="round"/>
<line x1="121.1" y1="753.07" x2="130.6" y2="753.07" stroke="#000" stroke-width="3.5" stroke-linecap="round"/>
<line x1="121.1" y1="604" x2="130.6" y2="604" stroke="#000" stroke-width="3.5" stroke-linecap="round"/>
<line x1="121.1" y1="976.67" x2="126.1" y2="976.67" stroke="#000" stroke-width="3.5" stroke-linecap="round"/>
<line x1="121.1" y1="827.6" x2="126.1" y2="827.6" stroke="#000" stroke-width="3.5" stroke-linecap="round"/>
<line x1="121.1" y1="678.53" x2="126.1" y2="678.53" stroke="#000" stroke-width="3.5" stroke-linecap="round"/>
<line x1="121.1" y1="1051.2" x2="121.1" y2="1041.7" stroke="#000" stroke-width="3.5" stroke-linecap="round"/>
<line x1="334.14" y1="1051.2" x2="334.14" y2="1041.7" stroke="#000" stroke-width="3.5" stroke-linecap="round"/>
<line x1="547.18" y1="1051.2" x2="547.18" y2="1041.7" stroke="#000" stroke-width="3.5" stroke-linecap="round"/>
<line x1="760.22" y1="1051.2" x2="760.22" y2="1041.7" stroke="#000" stroke-width="3.5" stroke-linecap="round"/>
<text x="111" y="1061.85" font-size="38" text-anchor="end">2.1</text>
<text x="111" y="912.78" font-size="38" text-anchor="end">2.4</text>
<text x="111" y="763.72" font-size="38" text-anchor="end">2.7</text>
<text x="111" y="614.65" font-size="38" text-anchor="end">3.0</text>
<text x="121.1" y="1087.5" font-size="38" text-anchor="middle">0.0</text>
<text x="334.14" y="1087.5" font-size="38" text-anchor="middle">0.4</text>
<text x="547.18" y="1087.5" font-size="38" text-anchor="middle">0.8</text>
<text x="760.22" y="1087.5" font-size="38" text-anchor="middle">1.2</text>
<text x="139" y="653.6" font-size="26.5" text-anchor="start">(e)</text>
<text x="0" y="0" font-size="49.5" text-anchor="middle" class="ttl" transform="translate(38.9,834.3) rotate(-90)">s / S</text>
<text x="465" y="1140.6" font-size="48.5" text-anchor="middle" class="ttl" textLength="248" lengthAdjust="spacingAndGlyphs"><tspan font-style="italic">C</tspan> / (mg/mL)</text>
<rect x="636" y="654" width="12" height="12" fill="#fff" stroke="#000" stroke-width="1.05"/>
<circle cx="642.6" cy="691" r="6.5" fill="#fff" stroke="#ff0000" stroke-width="1.05"/>
<path d="M642.2,713.3L650.2,726.9L634.2,726.9Z" fill="#fff" stroke="#0000ff" stroke-width="1.05"/>
<text x="677.9" y="668.1" font-size="25.2" text-anchor="start">pH 3.8</text>
<text x="677.9" y="699.4" font-size="25.2" text-anchor="start">pH 5.9</text>
<text x="677.9" y="731.5" font-size="25.2" text-anchor="start">pH 8.9</text>
</svg>
</body></html>
